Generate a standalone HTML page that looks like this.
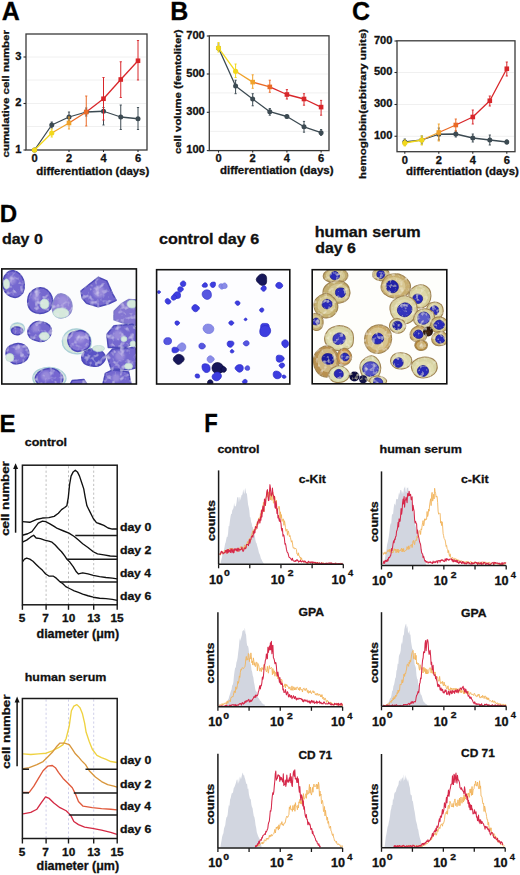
<!DOCTYPE html>
<html><head><meta charset="utf-8"><style>
html,body{margin:0;padding:0;background:#fff;width:520px;height:875px;overflow:hidden}
svg{display:block;font-family:"Liberation Sans",sans-serif}
text{stroke:#111;stroke-width:0.3px}
</style></head><body>
<svg width="520" height="875" viewBox="0 0 520 875">
<rect width="520" height="875" fill="#fff"/>
<line x1="27.00" y1="57.00" x2="146.00" y2="57.00" stroke="#ececec" stroke-width="0.8"/>
<line x1="27.00" y1="80.00" x2="146.00" y2="80.00" stroke="#ececec" stroke-width="0.8"/>
<line x1="27.00" y1="103.50" x2="146.00" y2="103.50" stroke="#ececec" stroke-width="0.8"/>
<line x1="27.00" y1="126.50" x2="146.00" y2="126.50" stroke="#ececec" stroke-width="0.8"/>
<rect x="26" y="34" width="121" height="116" fill="none" stroke="#3a3a3a" stroke-width="1.3"/>
<line x1="23.50" y1="150.00" x2="26.00" y2="150.00" stroke="#2b2b2b" stroke-width="1.1"/>
<text x="21.50" y="152.60" font-size="10.6" font-weight="bold" text-anchor="end" fill="#111" textLength="6.19" lengthAdjust="spacingAndGlyphs">1</text>
<line x1="23.50" y1="103.50" x2="26.00" y2="103.50" stroke="#2b2b2b" stroke-width="1.1"/>
<text x="21.50" y="106.10" font-size="10.6" font-weight="bold" text-anchor="end" fill="#111" textLength="6.19" lengthAdjust="spacingAndGlyphs">2</text>
<line x1="23.50" y1="57.00" x2="26.00" y2="57.00" stroke="#2b2b2b" stroke-width="1.1"/>
<text x="21.50" y="59.60" font-size="10.6" font-weight="bold" text-anchor="end" fill="#111" textLength="6.19" lengthAdjust="spacingAndGlyphs">3</text>
<line x1="34.50" y1="150.00" x2="34.50" y2="152.00" stroke="#2b2b2b" stroke-width="1.1"/>
<text x="34.50" y="161.80" font-size="10.6" font-weight="bold" text-anchor="middle" fill="#111" textLength="6.19" lengthAdjust="spacingAndGlyphs">0</text>
<line x1="69.00" y1="150.00" x2="69.00" y2="152.00" stroke="#2b2b2b" stroke-width="1.1"/>
<text x="69.00" y="161.80" font-size="10.6" font-weight="bold" text-anchor="middle" fill="#111" textLength="6.19" lengthAdjust="spacingAndGlyphs">2</text>
<line x1="103.50" y1="150.00" x2="103.50" y2="152.00" stroke="#2b2b2b" stroke-width="1.1"/>
<text x="103.50" y="161.80" font-size="10.6" font-weight="bold" text-anchor="middle" fill="#111" textLength="6.19" lengthAdjust="spacingAndGlyphs">4</text>
<line x1="138.00" y1="150.00" x2="138.00" y2="152.00" stroke="#2b2b2b" stroke-width="1.1"/>
<text x="138.00" y="161.80" font-size="10.6" font-weight="bold" text-anchor="middle" fill="#111" textLength="6.19" lengthAdjust="spacingAndGlyphs">6</text>
<text x="36.34" y="175.00" font-size="10.2" font-weight="bold" text-anchor="start" fill="#111" textLength="112.93" lengthAdjust="spacingAndGlyphs">differentiation (days)</text>
<text x="8.60" y="157.46" font-size="9.8" font-weight="bold" text-anchor="start" fill="#111" textLength="127.43" lengthAdjust="spacingAndGlyphs" transform="rotate(-90 8.60 157.46)">cumulative cell number</text>
<text x="1.67" y="20.20" font-size="25" font-weight="bold" text-anchor="start" fill="#000">A</text>
<line x1="34.50" y1="150.00" x2="34.50" y2="150.00" stroke="#3c4a52" stroke-width="1.0"/>
<line x1="33.40" y1="150.00" x2="35.60" y2="150.00" stroke="#3c4a52" stroke-width="0.9"/>
<line x1="33.40" y1="150.00" x2="35.60" y2="150.00" stroke="#3c4a52" stroke-width="0.9"/>
<line x1="51.75" y1="122.00" x2="51.75" y2="128.00" stroke="#3c4a52" stroke-width="1.0"/>
<line x1="50.65" y1="122.00" x2="52.85" y2="122.00" stroke="#3c4a52" stroke-width="0.9"/>
<line x1="50.65" y1="128.00" x2="52.85" y2="128.00" stroke="#3c4a52" stroke-width="0.9"/>
<line x1="69.00" y1="112.00" x2="69.00" y2="121.00" stroke="#3c4a52" stroke-width="1.0"/>
<line x1="67.90" y1="112.00" x2="70.10" y2="112.00" stroke="#3c4a52" stroke-width="0.9"/>
<line x1="67.90" y1="121.00" x2="70.10" y2="121.00" stroke="#3c4a52" stroke-width="0.9"/>
<line x1="86.25" y1="108.00" x2="86.25" y2="116.00" stroke="#3c4a52" stroke-width="1.0"/>
<line x1="85.15" y1="108.00" x2="87.35" y2="108.00" stroke="#3c4a52" stroke-width="0.9"/>
<line x1="85.15" y1="116.00" x2="87.35" y2="116.00" stroke="#3c4a52" stroke-width="0.9"/>
<line x1="103.50" y1="107.50" x2="103.50" y2="125.00" stroke="#3c4a52" stroke-width="1.0"/>
<line x1="102.40" y1="107.50" x2="104.60" y2="107.50" stroke="#3c4a52" stroke-width="0.9"/>
<line x1="102.40" y1="125.00" x2="104.60" y2="125.00" stroke="#3c4a52" stroke-width="0.9"/>
<line x1="120.75" y1="105.00" x2="120.75" y2="129.50" stroke="#3c4a52" stroke-width="1.0"/>
<line x1="119.65" y1="105.00" x2="121.85" y2="105.00" stroke="#3c4a52" stroke-width="0.9"/>
<line x1="119.65" y1="129.50" x2="121.85" y2="129.50" stroke="#3c4a52" stroke-width="0.9"/>
<line x1="138.00" y1="107.50" x2="138.00" y2="129.50" stroke="#3c4a52" stroke-width="1.0"/>
<line x1="136.90" y1="107.50" x2="139.10" y2="107.50" stroke="#3c4a52" stroke-width="0.9"/>
<line x1="136.90" y1="129.50" x2="139.10" y2="129.50" stroke="#3c4a52" stroke-width="0.9"/>
<polyline points="34.50,150.00 51.75,125.00 69.00,117.00 86.25,112.00 103.50,111.25 120.75,117.00 138.00,118.75" fill="none" stroke="#3c4a52" stroke-width="1.3" stroke-linejoin="round"/>
<circle cx="34.50" cy="150.00" r="2.5" fill="#3c4a52"/>
<circle cx="51.75" cy="125.00" r="2.5" fill="#3c4a52"/>
<circle cx="69.00" cy="117.00" r="2.5" fill="#3c4a52"/>
<circle cx="86.25" cy="112.00" r="2.5" fill="#3c4a52"/>
<circle cx="103.50" cy="111.25" r="2.5" fill="#3c4a52"/>
<circle cx="120.75" cy="117.00" r="2.5" fill="#3c4a52"/>
<circle cx="138.00" cy="118.75" r="2.5" fill="#3c4a52"/>
<line x1="34.50" y1="150.00" x2="34.50" y2="150.00" stroke="#f2d81c" stroke-width="1.0"/>
<line x1="33.40" y1="150.00" x2="35.60" y2="150.00" stroke="#f2d81c" stroke-width="0.9"/>
<line x1="33.40" y1="150.00" x2="35.60" y2="150.00" stroke="#f2d81c" stroke-width="0.9"/>
<line x1="51.75" y1="129.00" x2="51.75" y2="137.00" stroke="#f2d81c" stroke-width="1.0"/>
<line x1="50.65" y1="129.00" x2="52.85" y2="129.00" stroke="#f2d81c" stroke-width="0.9"/>
<line x1="50.65" y1="137.00" x2="52.85" y2="137.00" stroke="#f2d81c" stroke-width="0.9"/>
<line x1="69.00" y1="117.00" x2="69.00" y2="129.00" stroke="#f0a22a" stroke-width="1.0"/>
<line x1="67.90" y1="117.00" x2="70.10" y2="117.00" stroke="#f0a22a" stroke-width="0.9"/>
<line x1="67.90" y1="129.00" x2="70.10" y2="129.00" stroke="#f0a22a" stroke-width="0.9"/>
<line x1="86.25" y1="96.00" x2="86.25" y2="126.00" stroke="#ea6a26" stroke-width="1.0"/>
<line x1="85.15" y1="96.00" x2="87.35" y2="96.00" stroke="#ea6a26" stroke-width="0.9"/>
<line x1="85.15" y1="126.00" x2="87.35" y2="126.00" stroke="#ea6a26" stroke-width="0.9"/>
<line x1="103.50" y1="77.50" x2="103.50" y2="120.00" stroke="#d8262a" stroke-width="1.0"/>
<line x1="102.40" y1="77.50" x2="104.60" y2="77.50" stroke="#d8262a" stroke-width="0.9"/>
<line x1="102.40" y1="120.00" x2="104.60" y2="120.00" stroke="#d8262a" stroke-width="0.9"/>
<line x1="120.75" y1="61.75" x2="120.75" y2="97.50" stroke="#d8262a" stroke-width="1.0"/>
<line x1="119.65" y1="61.75" x2="121.85" y2="61.75" stroke="#d8262a" stroke-width="0.9"/>
<line x1="119.65" y1="97.50" x2="121.85" y2="97.50" stroke="#d8262a" stroke-width="0.9"/>
<line x1="138.00" y1="40.50" x2="138.00" y2="80.00" stroke="#d8262a" stroke-width="1.0"/>
<line x1="136.90" y1="40.50" x2="139.10" y2="40.50" stroke="#d8262a" stroke-width="0.9"/>
<line x1="136.90" y1="80.00" x2="139.10" y2="80.00" stroke="#d8262a" stroke-width="0.9"/>
<line x1="34.50" y1="150.00" x2="51.75" y2="133.00" stroke="#f2d81c" stroke-width="1.3"/>
<line x1="51.75" y1="133.00" x2="69.00" y2="123.00" stroke="#f0a22a" stroke-width="1.3"/>
<line x1="69.00" y1="123.00" x2="86.25" y2="112.00" stroke="#ea6a26" stroke-width="1.3"/>
<line x1="86.25" y1="112.00" x2="103.50" y2="98.75" stroke="#d8262a" stroke-width="1.3"/>
<line x1="103.50" y1="98.75" x2="120.75" y2="79.50" stroke="#d8262a" stroke-width="1.3"/>
<line x1="120.75" y1="79.50" x2="138.00" y2="60.75" stroke="#d8262a" stroke-width="1.3"/>
<circle cx="34.50" cy="150.00" r="2.6" fill="#f2d81c"/>
<circle cx="51.75" cy="133.00" r="2.6" fill="#f2d81c"/>
<rect x="66.70" y="120.70" width="4.6" height="4.6" fill="#f0a22a"/>
<rect x="83.95" y="109.70" width="4.6" height="4.6" fill="#ea6a26"/>
<rect x="101.20" y="96.45" width="4.6" height="4.6" fill="#d8262a"/>
<rect x="118.45" y="77.20" width="4.6" height="4.6" fill="#d8262a"/>
<rect x="135.70" y="58.45" width="4.6" height="4.6" fill="#d8262a"/>
<line x1="210.30" y1="54.60" x2="328.00" y2="54.60" stroke="#ececec" stroke-width="0.8"/>
<line x1="210.30" y1="74.00" x2="328.00" y2="74.00" stroke="#ececec" stroke-width="0.8"/>
<line x1="210.30" y1="92.90" x2="328.00" y2="92.90" stroke="#ececec" stroke-width="0.8"/>
<line x1="210.30" y1="111.70" x2="328.00" y2="111.70" stroke="#ececec" stroke-width="0.8"/>
<line x1="210.30" y1="131.40" x2="328.00" y2="131.40" stroke="#ececec" stroke-width="0.8"/>
<rect x="209.3" y="35.8" width="119.69999999999999" height="114.8" fill="none" stroke="#3a3a3a" stroke-width="1.3"/>
<line x1="206.80" y1="36.00" x2="209.30" y2="36.00" stroke="#2b2b2b" stroke-width="1.1"/>
<text x="204.80" y="38.60" font-size="10.6" font-weight="bold" text-anchor="end" fill="#111" textLength="18.57" lengthAdjust="spacingAndGlyphs">700</text>
<line x1="206.80" y1="74.00" x2="209.30" y2="74.00" stroke="#2b2b2b" stroke-width="1.1"/>
<text x="204.80" y="76.60" font-size="10.6" font-weight="bold" text-anchor="end" fill="#111" textLength="18.57" lengthAdjust="spacingAndGlyphs">500</text>
<line x1="206.80" y1="112.30" x2="209.30" y2="112.30" stroke="#2b2b2b" stroke-width="1.1"/>
<text x="204.80" y="114.90" font-size="10.6" font-weight="bold" text-anchor="end" fill="#111" textLength="18.57" lengthAdjust="spacingAndGlyphs">300</text>
<line x1="206.80" y1="150.60" x2="209.30" y2="150.60" stroke="#2b2b2b" stroke-width="1.1"/>
<text x="204.80" y="153.20" font-size="10.6" font-weight="bold" text-anchor="end" fill="#111" textLength="18.57" lengthAdjust="spacingAndGlyphs">100</text>
<line x1="218.50" y1="150.60" x2="218.50" y2="152.60" stroke="#2b2b2b" stroke-width="1.1"/>
<text x="218.50" y="162.40" font-size="10.6" font-weight="bold" text-anchor="middle" fill="#111" textLength="6.19" lengthAdjust="spacingAndGlyphs">0</text>
<line x1="252.70" y1="150.60" x2="252.70" y2="152.60" stroke="#2b2b2b" stroke-width="1.1"/>
<text x="252.70" y="162.40" font-size="10.6" font-weight="bold" text-anchor="middle" fill="#111" textLength="6.19" lengthAdjust="spacingAndGlyphs">2</text>
<line x1="286.90" y1="150.60" x2="286.90" y2="152.60" stroke="#2b2b2b" stroke-width="1.1"/>
<text x="286.90" y="162.40" font-size="10.6" font-weight="bold" text-anchor="middle" fill="#111" textLength="6.19" lengthAdjust="spacingAndGlyphs">4</text>
<line x1="321.10" y1="150.60" x2="321.10" y2="152.60" stroke="#2b2b2b" stroke-width="1.1"/>
<text x="321.10" y="162.40" font-size="10.6" font-weight="bold" text-anchor="middle" fill="#111" textLength="6.19" lengthAdjust="spacingAndGlyphs">6</text>
<text x="220.04" y="174.10" font-size="10.2" font-weight="bold" text-anchor="start" fill="#111" textLength="113.53" lengthAdjust="spacingAndGlyphs">differentiation (days)</text>
<text x="180.90" y="154.05" font-size="9.8" font-weight="bold" text-anchor="start" fill="#111" textLength="124.49" lengthAdjust="spacingAndGlyphs" transform="rotate(-90 180.90 154.05)">cell volume (femtoliter)</text>
<text x="170.18" y="20.20" font-size="25" font-weight="bold" text-anchor="start" fill="#000">B</text>
<line x1="218.50" y1="44.00" x2="218.50" y2="50.00" stroke="#3c4a52" stroke-width="1.0"/>
<line x1="217.40" y1="44.00" x2="219.60" y2="44.00" stroke="#3c4a52" stroke-width="0.9"/>
<line x1="217.40" y1="50.00" x2="219.60" y2="50.00" stroke="#3c4a52" stroke-width="0.9"/>
<line x1="235.60" y1="80.20" x2="235.60" y2="93.70" stroke="#3c4a52" stroke-width="1.0"/>
<line x1="234.50" y1="80.20" x2="236.70" y2="80.20" stroke="#3c4a52" stroke-width="0.9"/>
<line x1="234.50" y1="93.70" x2="236.70" y2="93.70" stroke="#3c4a52" stroke-width="0.9"/>
<line x1="252.70" y1="93.70" x2="252.70" y2="105.80" stroke="#3c4a52" stroke-width="1.0"/>
<line x1="251.60" y1="93.70" x2="253.80" y2="93.70" stroke="#3c4a52" stroke-width="0.9"/>
<line x1="251.60" y1="105.80" x2="253.80" y2="105.80" stroke="#3c4a52" stroke-width="0.9"/>
<line x1="269.80" y1="108.50" x2="269.80" y2="115.20" stroke="#3c4a52" stroke-width="1.0"/>
<line x1="268.70" y1="108.50" x2="270.90" y2="108.50" stroke="#3c4a52" stroke-width="0.9"/>
<line x1="268.70" y1="115.20" x2="270.90" y2="115.20" stroke="#3c4a52" stroke-width="0.9"/>
<line x1="286.90" y1="115.00" x2="286.90" y2="118.00" stroke="#3c4a52" stroke-width="1.0"/>
<line x1="285.80" y1="115.00" x2="288.00" y2="115.00" stroke="#3c4a52" stroke-width="0.9"/>
<line x1="285.80" y1="118.00" x2="288.00" y2="118.00" stroke="#3c4a52" stroke-width="0.9"/>
<line x1="304.00" y1="121.40" x2="304.00" y2="132.20" stroke="#3c4a52" stroke-width="1.0"/>
<line x1="302.90" y1="121.40" x2="305.10" y2="121.40" stroke="#3c4a52" stroke-width="0.9"/>
<line x1="302.90" y1="132.20" x2="305.10" y2="132.20" stroke="#3c4a52" stroke-width="0.9"/>
<line x1="321.10" y1="129.50" x2="321.10" y2="135.40" stroke="#3c4a52" stroke-width="1.0"/>
<line x1="320.00" y1="129.50" x2="322.20" y2="129.50" stroke="#3c4a52" stroke-width="0.9"/>
<line x1="320.00" y1="135.40" x2="322.20" y2="135.40" stroke="#3c4a52" stroke-width="0.9"/>
<polyline points="218.50,47.90 235.60,86.10 252.70,99.00 269.80,111.70 286.90,116.50 304.00,126.80 321.10,132.70" fill="none" stroke="#3c4a52" stroke-width="1.3" stroke-linejoin="round"/>
<circle cx="218.50" cy="47.90" r="2.5" fill="#3c4a52"/>
<circle cx="235.60" cy="86.10" r="2.5" fill="#3c4a52"/>
<circle cx="252.70" cy="99.00" r="2.5" fill="#3c4a52"/>
<circle cx="269.80" cy="111.70" r="2.5" fill="#3c4a52"/>
<circle cx="286.90" cy="116.50" r="2.5" fill="#3c4a52"/>
<circle cx="304.00" cy="126.80" r="2.5" fill="#3c4a52"/>
<circle cx="321.10" cy="132.70" r="2.5" fill="#3c4a52"/>
<line x1="218.50" y1="42.50" x2="218.50" y2="52.00" stroke="#f2d81c" stroke-width="1.0"/>
<line x1="217.40" y1="42.50" x2="219.60" y2="42.50" stroke="#f2d81c" stroke-width="0.9"/>
<line x1="217.40" y1="52.00" x2="219.60" y2="52.00" stroke="#f2d81c" stroke-width="0.9"/>
<line x1="235.60" y1="64.00" x2="235.60" y2="77.50" stroke="#f2d81c" stroke-width="1.0"/>
<line x1="234.50" y1="64.00" x2="236.70" y2="64.00" stroke="#f2d81c" stroke-width="0.9"/>
<line x1="234.50" y1="77.50" x2="236.70" y2="77.50" stroke="#f2d81c" stroke-width="0.9"/>
<line x1="252.70" y1="74.80" x2="252.70" y2="88.30" stroke="#f0a22a" stroke-width="1.0"/>
<line x1="251.60" y1="74.80" x2="253.80" y2="74.80" stroke="#f0a22a" stroke-width="0.9"/>
<line x1="251.60" y1="88.30" x2="253.80" y2="88.30" stroke="#f0a22a" stroke-width="0.9"/>
<line x1="269.80" y1="80.20" x2="269.80" y2="92.30" stroke="#ea6a26" stroke-width="1.0"/>
<line x1="268.70" y1="80.20" x2="270.90" y2="80.20" stroke="#ea6a26" stroke-width="0.9"/>
<line x1="268.70" y1="92.30" x2="270.90" y2="92.30" stroke="#ea6a26" stroke-width="0.9"/>
<line x1="286.90" y1="89.60" x2="286.90" y2="99.00" stroke="#d8262a" stroke-width="1.0"/>
<line x1="285.80" y1="89.60" x2="288.00" y2="89.60" stroke="#d8262a" stroke-width="0.9"/>
<line x1="285.80" y1="99.00" x2="288.00" y2="99.00" stroke="#d8262a" stroke-width="0.9"/>
<line x1="304.00" y1="93.70" x2="304.00" y2="105.20" stroke="#d8262a" stroke-width="1.0"/>
<line x1="302.90" y1="93.70" x2="305.10" y2="93.70" stroke="#d8262a" stroke-width="0.9"/>
<line x1="302.90" y1="105.20" x2="305.10" y2="105.20" stroke="#d8262a" stroke-width="0.9"/>
<line x1="321.10" y1="100.40" x2="321.10" y2="115.20" stroke="#d8262a" stroke-width="1.0"/>
<line x1="320.00" y1="100.40" x2="322.20" y2="100.40" stroke="#d8262a" stroke-width="0.9"/>
<line x1="320.00" y1="115.20" x2="322.20" y2="115.20" stroke="#d8262a" stroke-width="0.9"/>
<line x1="218.50" y1="47.90" x2="235.60" y2="71.30" stroke="#f2d81c" stroke-width="1.3"/>
<line x1="235.60" y1="71.30" x2="252.70" y2="82.10" stroke="#f0a22a" stroke-width="1.3"/>
<line x1="252.70" y1="82.10" x2="269.80" y2="86.90" stroke="#ea6a26" stroke-width="1.3"/>
<line x1="269.80" y1="86.90" x2="286.90" y2="94.50" stroke="#d8262a" stroke-width="1.3"/>
<line x1="286.90" y1="94.50" x2="304.00" y2="99.00" stroke="#d8262a" stroke-width="1.3"/>
<line x1="304.00" y1="99.00" x2="321.10" y2="107.10" stroke="#d8262a" stroke-width="1.3"/>
<circle cx="218.50" cy="47.90" r="2.6" fill="#f2d81c"/>
<circle cx="235.60" cy="71.30" r="2.6" fill="#f2d81c"/>
<rect x="250.40" y="79.80" width="4.6" height="4.6" fill="#f0a22a"/>
<rect x="267.50" y="84.60" width="4.6" height="4.6" fill="#ea6a26"/>
<rect x="284.60" y="92.20" width="4.6" height="4.6" fill="#d8262a"/>
<rect x="301.70" y="96.70" width="4.6" height="4.6" fill="#d8262a"/>
<rect x="318.80" y="104.80" width="4.6" height="4.6" fill="#d8262a"/>
<line x1="398.00" y1="72.50" x2="514.00" y2="72.50" stroke="#ececec" stroke-width="0.8"/>
<line x1="398.00" y1="104.50" x2="514.00" y2="104.50" stroke="#ececec" stroke-width="0.8"/>
<line x1="398.00" y1="136.25" x2="514.00" y2="136.25" stroke="#ececec" stroke-width="0.8"/>
<rect x="397" y="40.8" width="118" height="110.89999999999999" fill="none" stroke="#3a3a3a" stroke-width="1.3"/>
<line x1="394.50" y1="41.00" x2="397.00" y2="41.00" stroke="#2b2b2b" stroke-width="1.1"/>
<text x="392.50" y="43.60" font-size="10.6" font-weight="bold" text-anchor="end" fill="#111" textLength="18.57" lengthAdjust="spacingAndGlyphs">700</text>
<line x1="394.50" y1="72.50" x2="397.00" y2="72.50" stroke="#2b2b2b" stroke-width="1.1"/>
<text x="392.50" y="75.10" font-size="10.6" font-weight="bold" text-anchor="end" fill="#111" textLength="18.57" lengthAdjust="spacingAndGlyphs">500</text>
<line x1="394.50" y1="104.50" x2="397.00" y2="104.50" stroke="#2b2b2b" stroke-width="1.1"/>
<text x="392.50" y="107.10" font-size="10.6" font-weight="bold" text-anchor="end" fill="#111" textLength="18.57" lengthAdjust="spacingAndGlyphs">300</text>
<line x1="394.50" y1="136.25" x2="397.00" y2="136.25" stroke="#2b2b2b" stroke-width="1.1"/>
<text x="392.50" y="138.85" font-size="10.6" font-weight="bold" text-anchor="end" fill="#111" textLength="18.57" lengthAdjust="spacingAndGlyphs">100</text>
<line x1="404.80" y1="151.70" x2="404.80" y2="153.70" stroke="#2b2b2b" stroke-width="1.1"/>
<text x="404.80" y="163.50" font-size="10.6" font-weight="bold" text-anchor="middle" fill="#111" textLength="6.19" lengthAdjust="spacingAndGlyphs">0</text>
<line x1="438.80" y1="151.70" x2="438.80" y2="153.70" stroke="#2b2b2b" stroke-width="1.1"/>
<text x="438.80" y="163.50" font-size="10.6" font-weight="bold" text-anchor="middle" fill="#111" textLength="6.19" lengthAdjust="spacingAndGlyphs">2</text>
<line x1="472.80" y1="151.70" x2="472.80" y2="153.70" stroke="#2b2b2b" stroke-width="1.1"/>
<text x="472.80" y="163.50" font-size="10.6" font-weight="bold" text-anchor="middle" fill="#111" textLength="6.19" lengthAdjust="spacingAndGlyphs">4</text>
<line x1="506.80" y1="151.70" x2="506.80" y2="153.70" stroke="#2b2b2b" stroke-width="1.1"/>
<text x="506.80" y="163.50" font-size="10.6" font-weight="bold" text-anchor="middle" fill="#111" textLength="6.19" lengthAdjust="spacingAndGlyphs">6</text>
<text x="406.04" y="175.20" font-size="10.2" font-weight="bold" text-anchor="start" fill="#111" textLength="112.83" lengthAdjust="spacingAndGlyphs">differentiation (days)</text>
<text x="366.30" y="179.00" font-size="9.8" font-weight="bold" text-anchor="start" fill="#111" textLength="150.14" lengthAdjust="spacingAndGlyphs" transform="rotate(-90 366.30 179.00)">hemoglobin(arbitrary units)</text>
<text x="352.00" y="20.20" font-size="25" font-weight="bold" text-anchor="start" fill="#000">C</text>
<line x1="404.80" y1="139.00" x2="404.80" y2="145.00" stroke="#3c4a52" stroke-width="1.0"/>
<line x1="403.70" y1="139.00" x2="405.90" y2="139.00" stroke="#3c4a52" stroke-width="0.9"/>
<line x1="403.70" y1="145.00" x2="405.90" y2="145.00" stroke="#3c4a52" stroke-width="0.9"/>
<line x1="421.80" y1="136.00" x2="421.80" y2="144.00" stroke="#3c4a52" stroke-width="1.0"/>
<line x1="420.70" y1="136.00" x2="422.90" y2="136.00" stroke="#3c4a52" stroke-width="0.9"/>
<line x1="420.70" y1="144.00" x2="422.90" y2="144.00" stroke="#3c4a52" stroke-width="0.9"/>
<line x1="438.80" y1="128.00" x2="438.80" y2="140.00" stroke="#3c4a52" stroke-width="1.0"/>
<line x1="437.70" y1="128.00" x2="439.90" y2="128.00" stroke="#3c4a52" stroke-width="0.9"/>
<line x1="437.70" y1="140.00" x2="439.90" y2="140.00" stroke="#3c4a52" stroke-width="0.9"/>
<line x1="455.80" y1="131.00" x2="455.80" y2="137.00" stroke="#3c4a52" stroke-width="1.0"/>
<line x1="454.70" y1="131.00" x2="456.90" y2="131.00" stroke="#3c4a52" stroke-width="0.9"/>
<line x1="454.70" y1="137.00" x2="456.90" y2="137.00" stroke="#3c4a52" stroke-width="0.9"/>
<line x1="472.80" y1="134.00" x2="472.80" y2="142.00" stroke="#3c4a52" stroke-width="1.0"/>
<line x1="471.70" y1="134.00" x2="473.90" y2="134.00" stroke="#3c4a52" stroke-width="0.9"/>
<line x1="471.70" y1="142.00" x2="473.90" y2="142.00" stroke="#3c4a52" stroke-width="0.9"/>
<line x1="489.80" y1="135.00" x2="489.80" y2="145.00" stroke="#3c4a52" stroke-width="1.0"/>
<line x1="488.70" y1="135.00" x2="490.90" y2="135.00" stroke="#3c4a52" stroke-width="0.9"/>
<line x1="488.70" y1="145.00" x2="490.90" y2="145.00" stroke="#3c4a52" stroke-width="0.9"/>
<line x1="506.80" y1="140.00" x2="506.80" y2="144.00" stroke="#3c4a52" stroke-width="1.0"/>
<line x1="505.70" y1="140.00" x2="507.90" y2="140.00" stroke="#3c4a52" stroke-width="0.9"/>
<line x1="505.70" y1="144.00" x2="507.90" y2="144.00" stroke="#3c4a52" stroke-width="0.9"/>
<polyline points="404.80,142.00 421.80,140.00 438.80,134.25 455.80,134.00 472.80,138.00 489.80,140.00 506.80,142.00" fill="none" stroke="#3c4a52" stroke-width="1.3" stroke-linejoin="round"/>
<circle cx="404.80" cy="142.00" r="2.5" fill="#3c4a52"/>
<circle cx="421.80" cy="140.00" r="2.5" fill="#3c4a52"/>
<circle cx="438.80" cy="134.25" r="2.5" fill="#3c4a52"/>
<circle cx="455.80" cy="134.00" r="2.5" fill="#3c4a52"/>
<circle cx="472.80" cy="138.00" r="2.5" fill="#3c4a52"/>
<circle cx="489.80" cy="140.00" r="2.5" fill="#3c4a52"/>
<circle cx="506.80" cy="142.00" r="2.5" fill="#3c4a52"/>
<line x1="404.80" y1="140.00" x2="404.80" y2="146.00" stroke="#f2d81c" stroke-width="1.0"/>
<line x1="403.70" y1="140.00" x2="405.90" y2="140.00" stroke="#f2d81c" stroke-width="0.9"/>
<line x1="403.70" y1="146.00" x2="405.90" y2="146.00" stroke="#f2d81c" stroke-width="0.9"/>
<line x1="421.80" y1="136.00" x2="421.80" y2="145.00" stroke="#f2d81c" stroke-width="1.0"/>
<line x1="420.70" y1="136.00" x2="422.90" y2="136.00" stroke="#f2d81c" stroke-width="0.9"/>
<line x1="420.70" y1="145.00" x2="422.90" y2="145.00" stroke="#f2d81c" stroke-width="0.9"/>
<line x1="438.80" y1="124.00" x2="438.80" y2="141.00" stroke="#f0a22a" stroke-width="1.0"/>
<line x1="437.70" y1="124.00" x2="439.90" y2="124.00" stroke="#f0a22a" stroke-width="0.9"/>
<line x1="437.70" y1="141.00" x2="439.90" y2="141.00" stroke="#f0a22a" stroke-width="0.9"/>
<line x1="455.80" y1="119.00" x2="455.80" y2="131.00" stroke="#ea6a26" stroke-width="1.0"/>
<line x1="454.70" y1="119.00" x2="456.90" y2="119.00" stroke="#ea6a26" stroke-width="0.9"/>
<line x1="454.70" y1="131.00" x2="456.90" y2="131.00" stroke="#ea6a26" stroke-width="0.9"/>
<line x1="472.80" y1="110.00" x2="472.80" y2="124.00" stroke="#d8262a" stroke-width="1.0"/>
<line x1="471.70" y1="110.00" x2="473.90" y2="110.00" stroke="#d8262a" stroke-width="0.9"/>
<line x1="471.70" y1="124.00" x2="473.90" y2="124.00" stroke="#d8262a" stroke-width="0.9"/>
<line x1="489.80" y1="96.00" x2="489.80" y2="106.00" stroke="#d8262a" stroke-width="1.0"/>
<line x1="488.70" y1="96.00" x2="490.90" y2="96.00" stroke="#d8262a" stroke-width="0.9"/>
<line x1="488.70" y1="106.00" x2="490.90" y2="106.00" stroke="#d8262a" stroke-width="0.9"/>
<line x1="506.80" y1="62.00" x2="506.80" y2="76.00" stroke="#d8262a" stroke-width="1.0"/>
<line x1="505.70" y1="62.00" x2="507.90" y2="62.00" stroke="#d8262a" stroke-width="0.9"/>
<line x1="505.70" y1="76.00" x2="507.90" y2="76.00" stroke="#d8262a" stroke-width="0.9"/>
<line x1="404.80" y1="143.00" x2="421.80" y2="140.00" stroke="#f2d81c" stroke-width="1.3"/>
<line x1="421.80" y1="140.00" x2="438.80" y2="132.50" stroke="#f0a22a" stroke-width="1.3"/>
<line x1="438.80" y1="132.50" x2="455.80" y2="125.00" stroke="#ea6a26" stroke-width="1.3"/>
<line x1="455.80" y1="125.00" x2="472.80" y2="117.00" stroke="#d8262a" stroke-width="1.3"/>
<line x1="472.80" y1="117.00" x2="489.80" y2="100.75" stroke="#d8262a" stroke-width="1.3"/>
<line x1="489.80" y1="100.75" x2="506.80" y2="68.75" stroke="#d8262a" stroke-width="1.3"/>
<circle cx="404.80" cy="143.00" r="2.6" fill="#f2d81c"/>
<circle cx="421.80" cy="140.00" r="2.6" fill="#f2d81c"/>
<rect x="436.50" y="130.20" width="4.6" height="4.6" fill="#f0a22a"/>
<rect x="453.50" y="122.70" width="4.6" height="4.6" fill="#ea6a26"/>
<rect x="470.50" y="114.70" width="4.6" height="4.6" fill="#d8262a"/>
<rect x="487.50" y="98.45" width="4.6" height="4.6" fill="#d8262a"/>
<rect x="504.50" y="66.45" width="4.6" height="4.6" fill="#d8262a"/>
<text x="-0.17" y="222.10" font-size="24.6" font-weight="bold" text-anchor="start" fill="#000" textLength="17.41" lengthAdjust="spacingAndGlyphs">D</text>
<text x="1.96" y="243.60" font-size="14.6" font-weight="bold" text-anchor="start" fill="#111" textLength="40.81" lengthAdjust="spacingAndGlyphs">day 0</text>
<text x="158.96" y="244.20" font-size="14.6" font-weight="bold" text-anchor="start" fill="#111" textLength="100.19" lengthAdjust="spacingAndGlyphs">control day 6</text>
<text x="314.67" y="237.20" font-size="14.6" font-weight="bold" text-anchor="start" fill="#111" textLength="106.06" lengthAdjust="spacingAndGlyphs">human serum</text>
<text x="315.16" y="252.60" font-size="14.6" font-weight="bold" text-anchor="start" fill="#111" textLength="40.73" lengthAdjust="spacingAndGlyphs">day 6</text>
<defs>
<clipPath id="cp0"><rect x="1.8" y="268.9" width="134.6" height="115.10000000000002"/></clipPath>
<clipPath id="cp1"><rect x="156.6" y="269.7" width="133.20000000000002" height="114.30000000000001"/></clipPath>
<clipPath id="cp2"><rect x="312.2" y="269.7" width="134.60000000000002" height="114.10000000000002"/></clipPath>
<filter id="bl1" x="-30%" y="-30%" width="160%" height="160%"><feGaussianBlur stdDeviation="0.6"/></filter>
<filter id="bl2" x="-30%" y="-30%" width="160%" height="160%"><feGaussianBlur stdDeviation="1.2"/></filter>
<filter id="tex" x="0" y="0" width="100%" height="100%"><feTurbulence type="fractalNoise" baseFrequency="0.2" numOctaves="2" seed="4" result="n"/><feColorMatrix in="n" type="matrix" values="0 0 0 0 0.84  0 0 0 0 0.8  0 0 0 0 0.96  -1.5 0 0 0 0.75" result="w"/><feComposite in="w" in2="SourceAlpha" operator="in" result="wm"/><feMerge><feMergeNode in="SourceGraphic"/><feMergeNode in="wm"/></feMerge></filter>
<filter id="tex2" x="0" y="0" width="100%" height="100%"><feTurbulence type="fractalNoise" baseFrequency="0.25" numOctaves="2" seed="9" result="n"/><feColorMatrix in="n" type="matrix" values="0 0 0 0 0.96  0 0 0 0 0.94  0 0 0 0 0.8  -1.5 0 0 0 0.72" result="w"/><feComposite in="w" in2="SourceAlpha" operator="in" result="wm"/><feMerge><feMergeNode in="SourceGraphic"/><feMergeNode in="wm"/></feMerge></filter>
</defs>
<g clip-path="url(#cp0)">
<rect x="1.8" y="268.9" width="134.6" height="115.10000000000002" fill="#fbfcfd"/>
<g filter="url(#tex)">
<g filter="url(#bl1)"><path d="M23.51,280.20 Q24.63,284.00 24.12,288.34 Q23.62,292.69 20.56,295.28 Q17.50,297.88 13.94,297.33 Q10.39,296.79 7.44,294.51 Q4.50,292.22 3.45,288.11 Q2.39,284.00 3.33,279.79 Q4.27,275.57 7.18,272.82 Q10.08,270.07 13.60,270.81 Q17.12,271.55 19.76,273.97 Q22.40,276.39 23.51,280.20 Z" fill="#7468cf" stroke="#4d48b8" stroke-width="1.5" stroke-linejoin="round"/><circle cx="12.00" cy="280.00" r="4.00" fill="#a496de" opacity="0.75" filter="url(#bl2)"/><ellipse cx="6.50" cy="284.00" rx="3.00" ry="5.00" fill="#d6e9dc" stroke="#b8d8d4" stroke-width="0.8"/></g>
<g filter="url(#bl1)"><path d="M51.85,296.82 Q53.41,301.00 52.12,305.41 Q50.84,309.82 47.21,311.59 Q43.59,313.37 39.99,313.40 Q36.39,313.43 32.87,311.55 Q29.34,309.67 28.19,305.34 Q27.03,301.00 28.32,296.77 Q29.61,292.55 32.93,290.32 Q36.26,288.09 40.09,287.78 Q43.93,287.46 47.11,290.04 Q50.29,292.63 51.85,296.82 Z" fill="#7468cf" stroke="#4d48b8" stroke-width="1.5" stroke-linejoin="round"/><circle cx="36.00" cy="297.00" r="4.00" fill="#a496de" opacity="0.75" filter="url(#bl2)"/><ellipse cx="44.50" cy="304.00" rx="4.50" ry="5.00" fill="#d6e9dc" stroke="#b8d8d4" stroke-width="0.8"/></g>
<g filter="url(#bl1)"><path d="M71.42,302.52 Q72.42,306.00 71.70,309.71 Q70.98,313.41 68.14,315.50 Q65.31,317.58 61.92,317.86 Q58.53,318.14 55.70,315.83 Q52.88,313.53 52.42,309.77 Q51.96,306.00 52.96,302.68 Q53.97,299.37 56.17,296.34 Q58.37,293.31 61.80,294.00 Q65.24,294.68 67.83,296.86 Q70.43,299.04 71.42,302.52 Z" fill="#8e7ed6" stroke="#8a88cc" stroke-width="1.5" stroke-linejoin="round"/><circle cx="63.00" cy="301.00" r="5.00" fill="#a496de" opacity="0.75" filter="url(#bl2)"/><ellipse cx="61.00" cy="313.00" rx="8.00" ry="5.00" fill="#d6e9dc" stroke="#b8d8d4" stroke-width="0.8"/></g>
<g filter="url(#bl1)"><path d="M80.90,291.00 L98.20,277.30 L106.80,280.90 L112.60,293.90 L116.20,300.40 L108.30,304.00 L98.20,306.80 L86.60,303.20 L82.30,298.20 Z" fill="#7468cf" stroke="#4d48b8" stroke-width="1.5" stroke-linejoin="round"/><circle cx="99.00" cy="292.00" r="6.00" fill="#a496de" opacity="0.75" filter="url(#bl2)"/></g>
<g filter="url(#bl1)"><path d="M114.00,311.20 L121.30,304.00 L128.50,299.60 L137.00,300.00 L137.00,325.60 L122.70,322.70 L114.00,319.80 Z" fill="#8476d2" stroke="#7a74c8" stroke-width="1.5" stroke-linejoin="round"/><ellipse cx="132.00" cy="304.00" rx="5.00" ry="4.00" fill="#d6e9dc" stroke="#b8d8d4" stroke-width="0.8"/></g>
<g filter="url(#bl1)"><path d="M23.97,326.47 Q24.97,328.70 23.92,330.89 Q22.86,333.07 20.18,333.96 Q17.50,334.84 14.83,333.95 Q12.16,333.06 11.07,330.88 Q9.98,328.70 11.00,326.47 Q12.02,324.23 14.76,323.46 Q17.50,322.68 20.23,323.46 Q22.96,324.24 23.97,326.47 Z" fill="#d6e9dc" stroke="#a9cfd6" stroke-width="1.4"/><path d="M22.15,329.25 Q23.08,330.80 22.17,332.36 Q21.26,333.92 19.03,334.46 Q16.80,334.99 14.76,334.32 Q12.72,333.66 12.00,332.23 Q11.28,330.80 11.86,329.28 Q12.45,327.75 14.62,327.19 Q16.80,326.62 19.01,327.16 Q21.22,327.71 22.15,329.25 Z" fill="#7468cf" stroke="#4d48b8" stroke-width="1.5" stroke-linejoin="round"/></g>
<g filter="url(#bl1)"><path d="M51.04,328.26 Q52.14,331.40 50.81,334.40 Q49.48,337.39 46.61,339.66 Q43.75,341.92 39.88,341.44 Q36.02,340.97 32.65,339.38 Q29.29,337.78 28.23,334.59 Q27.18,331.40 28.63,328.45 Q30.08,325.50 32.91,323.31 Q35.74,321.12 39.55,321.50 Q43.36,321.89 46.65,323.50 Q49.95,325.12 51.04,328.26 Z" fill="#7468cf" stroke="#4d48b8" stroke-width="1.5" stroke-linejoin="round"/><circle cx="36.00" cy="328.00" r="4.00" fill="#a496de" opacity="0.75" filter="url(#bl2)"/><ellipse cx="44.40" cy="336.20" rx="5.00" ry="4.00" fill="#d6e9dc" stroke="#b8d8d4" stroke-width="0.8"/></g>
<g filter="url(#bl1)"><path d="M90.38,337.69 Q91.71,341.50 90.79,345.57 Q89.86,349.64 85.76,351.82 Q81.66,354.00 77.05,353.86 Q72.44,353.72 68.46,351.57 Q64.48,349.42 63.00,345.46 Q61.51,341.50 63.01,337.55 Q64.50,333.59 68.37,331.17 Q72.24,328.75 76.93,328.95 Q81.61,329.14 85.33,331.51 Q89.05,333.88 90.38,337.69 Z" fill="#d6e9dc" stroke="#a9cfd6" stroke-width="1.4"/><path d="M89.63,337.78 Q90.61,341.00 89.93,344.41 Q89.25,347.82 85.89,349.41 Q82.54,350.99 78.87,351.36 Q75.20,351.72 72.49,349.43 Q69.78,347.14 68.57,344.07 Q67.36,341.00 68.04,337.57 Q68.71,334.15 72.07,332.53 Q75.42,330.90 79.10,330.63 Q82.77,330.36 85.72,332.46 Q88.66,334.57 89.63,337.78 Z" fill="#8272d4" stroke="#4d48b8" stroke-width="1.5" stroke-linejoin="round"/><circle cx="80.00" cy="338.00" r="5.00" fill="#a496de" opacity="0.75" filter="url(#bl2)"/></g>
<g filter="url(#bl1)"><path d="M28.40,350.38 Q29.45,353.60 28.25,356.73 Q27.06,359.85 24.05,361.64 Q21.05,363.43 17.34,363.87 Q13.63,364.32 11.00,361.95 Q8.37,359.57 6.93,356.59 Q5.50,353.60 6.41,350.27 Q7.33,346.95 10.65,345.40 Q13.98,343.85 17.61,343.55 Q21.23,343.26 24.29,345.21 Q27.34,347.16 28.40,350.38 Z" fill="#7468cf" stroke="#4d48b8" stroke-width="1.5" stroke-linejoin="round"/><circle cx="19.00" cy="350.00" r="4.00" fill="#a496de" opacity="0.75" filter="url(#bl2)"/><ellipse cx="9.80" cy="357.50" rx="4.00" ry="4.00" fill="#d6e9dc" stroke="#b8d8d4" stroke-width="0.8"/></g>
<g filter="url(#bl1)"><path d="M104.66,354.82 Q106.11,357.50 104.77,360.24 Q103.44,362.99 100.56,364.85 Q97.68,366.70 94.07,366.30 Q90.45,365.90 86.96,364.70 Q83.46,363.50 82.21,360.50 Q80.97,357.50 82.40,354.61 Q83.83,351.71 87.16,350.46 Q90.49,349.20 94.06,348.81 Q97.63,348.42 100.42,350.28 Q103.21,352.15 104.66,354.82 Z" fill="#5a52c6" stroke="#4d48b8" stroke-width="1.5" stroke-linejoin="round"/><ellipse cx="98.50" cy="348.50" rx="6.00" ry="3.00" fill="#d6e9dc" stroke="#b8d8d4" stroke-width="0.8"/></g>
<g filter="url(#bl1)"><path d="M106.80,334.40 L114.00,325.80 L132.80,324.30 L137.00,330.00 L137.00,341.60 L125.60,347.40 L108.30,347.40 Z" fill="#7468cf" stroke="#4d48b8" stroke-width="1.5" stroke-linejoin="round"/><circle cx="118.00" cy="335.00" r="5.00" fill="#a496de" opacity="0.75" filter="url(#bl2)"/><ellipse cx="124.00" cy="339.00" rx="3.00" ry="2.50" fill="#d6e9dc" stroke="#b8d8d4" stroke-width="0.8"/><ellipse cx="133.00" cy="344.00" rx="3.00" ry="3.00" fill="#d6e9dc" stroke="#b8d8d4" stroke-width="0.8"/></g>
<g filter="url(#bl1)"><path d="M106.80,355.40 L112.60,348.90 L134.30,347.40 L137.00,350.00 L137.00,367.60 L128.50,369.80 L111.20,369.10 Z" fill="#7468cf" stroke="#4d48b8" stroke-width="1.5" stroke-linejoin="round"/><circle cx="120.00" cy="356.00" r="5.00" fill="#a496de" opacity="0.75" filter="url(#bl2)"/><ellipse cx="128.50" cy="366.20" rx="4.00" ry="3.00" fill="#d6e9dc" stroke="#b8d8d4" stroke-width="0.8"/></g>
<g filter="url(#bl1)"><path d="M64.76,374.64 Q66.87,378.00 65.18,381.56 Q63.49,385.12 59.00,387.29 Q54.50,389.45 49.25,388.92 Q44.01,388.39 39.55,386.61 Q35.09,384.83 33.63,381.42 Q32.16,378.00 33.68,374.61 Q35.20,371.22 39.59,369.38 Q43.98,367.55 49.02,367.51 Q54.06,367.47 58.36,369.38 Q62.66,371.29 64.76,374.64 Z" fill="#d6e9dc" stroke="#a9cfd6" stroke-width="1.4"/><path d="M61.92,375.23 Q63.42,378.00 62.46,381.03 Q61.49,384.05 57.63,385.92 Q53.77,387.79 48.94,387.92 Q44.11,388.04 40.79,385.81 Q37.47,383.58 36.06,380.79 Q34.65,378.00 36.10,375.23 Q37.55,372.45 41.06,370.68 Q44.57,368.91 49.19,368.52 Q53.81,368.13 57.11,370.30 Q60.42,372.47 61.92,375.23 Z" fill="#7466d0" stroke="#4d48b8" stroke-width="1.5" stroke-linejoin="round"/><circle cx="46.00" cy="376.00" r="5.00" fill="#a496de" opacity="0.75" filter="url(#bl2)"/></g>
<g filter="url(#bl1)"><path d="M102.50,386.00 L105.40,373.40 L112.60,369.80 L128.50,371.90 L131.40,386.00 Z" fill="#7468cf" stroke="#4d48b8" stroke-width="1.5" stroke-linejoin="round"/><circle cx="116.00" cy="378.00" r="4.00" fill="#a496de" opacity="0.75" filter="url(#bl2)"/></g>
<g filter="url(#bl1)"><path d="M69.30,386.00 L72.20,380.50 L83.80,379.50 L88.10,386.00 Z" fill="#7468cf" stroke="#4d48b8" stroke-width="1.5" stroke-linejoin="round"/></g>
</g></g>
<rect x="1.8" y="268.9" width="134.6" height="115.10000000000002" fill="none" stroke="#111" stroke-width="1.6"/>
<g clip-path="url(#cp1)">
<rect x="156.6" y="269.7" width="133.20000000000002" height="114.30000000000001" fill="#fdfdff"/>
<path d="M185.68,282.78 Q185.92,283.80 185.65,284.79 Q185.39,285.78 184.34,286.36 Q183.30,286.93 182.16,286.45 Q181.02,285.96 180.54,284.88 Q180.05,283.80 180.64,282.82 Q181.23,281.83 182.26,281.24 Q183.30,280.64 184.37,281.20 Q185.45,281.76 185.68,282.78 Z" fill="#3c3ce0" stroke="#2c2cc8" stroke-width="0.7" filter="url(#bl1)"/>
<path d="M183.10,288.29 Q183.69,289.20 183.09,290.10 Q182.49,290.99 181.54,291.76 Q180.60,292.53 179.38,292.03 Q178.15,291.52 177.90,290.36 Q177.64,289.20 177.99,288.13 Q178.35,287.07 179.48,286.85 Q180.60,286.64 181.55,287.01 Q182.51,287.39 183.10,288.29 Z" fill="#3c3ce0" stroke="#2c2cc8" stroke-width="0.7" filter="url(#bl1)"/>
<path d="M180.39,293.92 Q180.69,295.30 180.42,296.70 Q180.15,298.10 178.67,298.37 Q177.20,298.65 175.68,298.42 Q174.16,298.19 173.60,296.75 Q173.04,295.30 173.77,294.01 Q174.49,292.72 175.84,292.03 Q177.20,291.34 178.65,291.94 Q180.10,292.55 180.39,293.92 Z" fill="#3c3ce0" stroke="#2c2cc8" stroke-width="0.7" filter="url(#bl1)"/>
<path d="M176.47,296.43 Q177.32,297.30 176.60,298.29 Q175.89,299.28 174.84,299.83 Q173.80,300.37 172.65,299.93 Q171.50,299.49 171.30,298.39 Q171.11,297.30 171.55,296.45 Q172.00,295.59 172.90,294.97 Q173.80,294.34 174.72,294.95 Q175.63,295.56 176.47,296.43 Z" fill="#3c3ce0" stroke="#2c2cc8" stroke-width="0.7" filter="url(#bl1)"/>
<path d="M170.42,300.47 Q171.30,301.30 170.75,302.44 Q170.21,303.59 169.00,303.99 Q167.80,304.39 166.84,303.75 Q165.89,303.12 165.43,302.21 Q164.98,301.30 165.25,300.21 Q165.52,299.13 166.66,298.63 Q167.80,298.14 168.68,298.89 Q169.55,299.64 170.42,300.47 Z" fill="#3c3ce0" stroke="#2c2cc8" stroke-width="0.7" filter="url(#bl1)"/>
<path d="M160.41,291.53 Q160.82,292.00 160.44,292.51 Q160.07,293.02 159.53,293.35 Q159.00,293.68 158.34,293.46 Q157.68,293.25 157.60,292.62 Q157.51,292.00 157.63,291.41 Q157.76,290.82 158.38,290.70 Q159.00,290.57 159.50,290.81 Q159.99,291.06 160.41,291.53 Z" fill="#3c3ce0" stroke="#2c2cc8" stroke-width="0.7" filter="url(#bl1)"/>
<path d="M207.22,284.23 Q207.60,285.20 207.25,286.20 Q206.90,287.20 205.85,287.22 Q204.80,287.24 203.73,287.23 Q202.67,287.22 202.28,286.21 Q201.90,285.20 202.58,284.47 Q203.25,283.73 204.03,283.09 Q204.80,282.46 205.82,282.86 Q206.84,283.26 207.22,284.23 Z" fill="#3c3ce0" stroke="#2c2cc8" stroke-width="0.7" filter="url(#bl1)"/>
<path d="M215.51,283.31 Q215.63,284.50 215.35,285.54 Q215.08,286.57 213.99,287.20 Q212.90,287.83 211.78,287.23 Q210.66,286.63 210.29,285.56 Q209.92,284.50 210.42,283.56 Q210.92,282.62 211.91,282.32 Q212.90,282.02 214.15,282.07 Q215.40,282.12 215.51,283.31 Z" fill="#3c3ce0" stroke="#2c2cc8" stroke-width="0.7" filter="url(#bl1)"/>
<path d="M210.93,292.34 Q211.57,294.00 211.35,296.06 Q211.13,298.11 208.97,299.03 Q206.80,299.94 204.94,298.74 Q203.07,297.54 202.41,295.77 Q201.74,294.00 202.54,292.35 Q203.34,290.71 205.07,290.14 Q206.80,289.56 208.54,290.12 Q210.29,290.68 210.93,292.34 Z" fill="#5656e0" stroke="#3a3ad0" stroke-width="0.7" filter="url(#bl1)"/>
<path d="M224.05,285.49 Q224.36,286.50 224.03,287.49 Q223.69,288.49 222.65,288.94 Q221.60,289.40 220.69,288.81 Q219.78,288.23 219.19,287.36 Q218.60,286.50 218.86,285.33 Q219.13,284.15 220.37,283.87 Q221.60,283.59 222.67,284.03 Q223.74,284.47 224.05,285.49 Z" fill="#8a8ce6" stroke="#7074e0" stroke-width="0.7" filter="url(#bl1)"/>
<path d="M198.91,306.86 Q200.03,308.00 199.07,309.29 Q198.11,310.58 196.76,311.41 Q195.40,312.24 194.11,311.34 Q192.83,310.44 192.13,309.22 Q191.43,308.00 192.11,306.77 Q192.80,305.53 194.10,304.84 Q195.40,304.14 196.60,304.93 Q197.80,305.72 198.91,306.86 Z" fill="#3c3ce0" stroke="#2c2cc8" stroke-width="0.7" filter="url(#bl1)"/>
<path d="M179.38,322.15 Q179.99,322.90 179.39,323.65 Q178.78,324.41 177.99,325.03 Q177.20,325.65 176.32,325.11 Q175.44,324.58 175.11,323.74 Q174.79,322.90 175.07,322.02 Q175.36,321.15 176.28,320.98 Q177.20,320.81 177.99,321.11 Q178.77,321.41 179.38,322.15 Z" fill="#3c3ce0" stroke="#2c2cc8" stroke-width="0.7" filter="url(#bl1)"/>
<path d="M213.28,326.84 Q214.26,328.50 213.59,330.46 Q212.92,332.42 210.86,333.18 Q208.80,333.95 206.72,333.21 Q204.63,332.46 203.57,330.48 Q202.50,328.50 203.53,326.49 Q204.56,324.47 206.68,324.19 Q208.80,323.91 210.55,324.54 Q212.30,325.18 213.28,326.84 Z" fill="#8a8ce6" stroke="#7074e0" stroke-width="0.7" filter="url(#bl1)"/>
<path d="M266.58,277.53 Q266.69,279.80 266.60,282.08 Q266.50,284.36 264.10,285.16 Q261.70,285.96 259.95,284.54 Q258.19,283.13 256.89,281.47 Q255.59,279.80 256.72,277.97 Q257.86,276.15 259.78,274.73 Q261.70,273.32 264.09,274.29 Q266.48,275.26 266.58,277.53 Z" fill="#16165a" stroke="#0c0c3a" stroke-width="0.7" filter="url(#bl1)"/>
<path d="M266.19,287.53 Q266.42,288.60 265.97,289.46 Q265.51,290.32 264.61,290.97 Q263.70,291.62 262.74,291.02 Q261.77,290.43 261.17,289.51 Q260.57,288.60 261.20,287.72 Q261.84,286.84 262.77,286.05 Q263.70,285.26 264.83,285.86 Q265.95,286.46 266.19,287.53 Z" fill="#3c3ce0" stroke="#2c2cc8" stroke-width="0.7" filter="url(#bl1)"/>
<path d="M282.52,284.65 Q283.20,285.90 282.30,286.95 Q281.40,287.99 280.30,288.38 Q279.20,288.76 278.14,288.34 Q277.07,287.92 276.23,286.91 Q275.38,285.90 275.89,284.57 Q276.41,283.25 277.80,282.62 Q279.20,281.99 280.52,282.69 Q281.83,283.40 282.52,284.65 Z" fill="#3c3ce0" stroke="#2c2cc8" stroke-width="0.7" filter="url(#bl1)"/>
<path d="M239.77,302.27 Q240.29,303.10 239.81,303.97 Q239.33,304.84 238.42,305.25 Q237.50,305.66 236.77,305.07 Q236.04,304.48 235.46,303.79 Q234.87,303.10 235.22,302.19 Q235.58,301.28 236.54,301.01 Q237.50,300.74 238.38,301.09 Q239.26,301.43 239.77,302.27 Z" fill="#3c3ce0" stroke="#2c2cc8" stroke-width="0.7" filter="url(#bl1)"/>
<path d="M263.74,309.24 Q263.97,310.10 263.61,310.84 Q263.25,311.58 262.48,311.98 Q261.70,312.39 260.92,311.98 Q260.15,311.57 259.72,310.84 Q259.28,310.10 259.73,309.38 Q260.18,308.65 260.94,308.18 Q261.70,307.70 262.60,308.04 Q263.51,308.38 263.74,309.24 Z" fill="#3c3ce0" stroke="#2c2cc8" stroke-width="0.7" filter="url(#bl1)"/>
<path d="M246.96,318.98 Q247.21,319.50 246.88,319.95 Q246.54,320.39 246.07,320.56 Q245.60,320.72 245.10,320.59 Q244.59,320.46 244.27,319.98 Q243.96,319.50 244.28,319.03 Q244.61,318.56 245.11,318.22 Q245.60,317.88 246.15,318.17 Q246.70,318.45 246.96,318.98 Z" fill="#3c3ce0" stroke="#2c2cc8" stroke-width="0.7" filter="url(#bl1)"/>
<path d="M233.59,322.19 Q234.28,322.90 233.62,323.64 Q232.96,324.39 232.18,324.95 Q231.40,325.52 230.50,325.06 Q229.61,324.60 229.04,323.75 Q228.47,322.90 229.03,322.04 Q229.60,321.19 230.50,320.89 Q231.40,320.58 232.15,321.03 Q232.90,321.47 233.59,322.19 Z" fill="#3c3ce0" stroke="#2c2cc8" stroke-width="0.7" filter="url(#bl1)"/>
<path d="M269.02,325.33 Q269.52,327.00 268.67,328.34 Q267.83,329.68 266.41,330.83 Q265.00,331.97 263.33,331.07 Q261.66,330.17 261.01,328.59 Q260.35,327.00 260.83,325.25 Q261.31,323.50 263.16,323.43 Q265.00,323.35 266.76,323.51 Q268.52,323.66 269.02,325.33 Z" fill="#3c3ce0" stroke="#2c2cc8" stroke-width="0.7" filter="url(#bl1)"/>
<path d="M226.96,284.97 Q227.25,285.90 227.07,286.94 Q226.89,287.98 225.79,288.31 Q224.70,288.65 223.48,288.43 Q222.26,288.22 221.92,287.06 Q221.58,285.90 222.07,284.88 Q222.56,283.87 223.63,283.23 Q224.70,282.60 225.68,283.32 Q226.66,284.04 226.96,284.97 Z" fill="#8a8ce6" stroke="#7074e0" stroke-width="0.7" filter="url(#bl1)"/>
<path d="M171.39,339.69 Q171.81,341.20 171.27,342.59 Q170.73,343.98 169.26,344.36 Q167.80,344.73 166.17,344.52 Q164.53,344.30 164.00,342.75 Q163.47,341.20 164.09,339.73 Q164.71,338.26 166.25,337.86 Q167.80,337.46 169.39,337.82 Q170.97,338.19 171.39,339.69 Z" fill="#5656e0" stroke="#3a3ad0" stroke-width="0.7" filter="url(#bl1)"/>
<path d="M185.66,345.62 Q186.09,347.20 185.50,348.63 Q184.91,350.06 183.41,350.93 Q181.90,351.79 180.38,350.94 Q178.86,350.08 177.52,348.64 Q176.18,347.20 177.57,345.80 Q178.95,344.40 180.43,343.39 Q181.90,342.39 183.56,343.22 Q185.22,344.04 185.66,345.62 Z" fill="#8a8ce6" stroke="#7074e0" stroke-width="0.7" filter="url(#bl1)"/>
<path d="M178.33,348.87 Q179.28,349.90 178.50,351.10 Q177.72,352.29 176.46,352.57 Q175.20,352.84 173.76,352.74 Q172.31,352.65 172.06,351.27 Q171.81,349.90 172.14,348.60 Q172.47,347.31 173.83,347.22 Q175.20,347.14 176.29,347.48 Q177.38,347.83 178.33,348.87 Z" fill="#3c3ce0" stroke="#2c2cc8" stroke-width="0.7" filter="url(#bl1)"/>
<path d="M183.77,357.38 Q184.89,359.30 183.50,360.96 Q182.10,362.63 180.35,363.87 Q178.60,365.10 176.79,363.92 Q174.99,362.73 173.81,361.01 Q172.63,359.30 173.77,357.55 Q174.92,355.80 176.76,354.84 Q178.60,353.87 180.63,354.66 Q182.65,355.45 183.77,357.38 Z" fill="#16165a" stroke="#0c0c3a" stroke-width="0.7" filter="url(#bl1)"/>
<path d="M204.97,344.88 Q205.69,345.90 205.17,347.11 Q204.64,348.32 203.37,348.74 Q202.10,349.17 200.80,348.77 Q199.50,348.37 199.07,347.14 Q198.64,345.90 199.14,344.74 Q199.65,343.57 200.87,343.28 Q202.10,342.99 203.17,343.42 Q204.25,343.86 204.97,344.88 Z" fill="#5656e0" stroke="#3a3ad0" stroke-width="0.7" filter="url(#bl1)"/>
<path d="M209.83,366.54 Q210.28,368.10 210.04,369.85 Q209.79,371.61 207.95,372.28 Q206.10,372.96 204.59,371.97 Q203.08,370.97 202.51,369.54 Q201.95,368.10 201.98,366.15 Q202.00,364.21 204.05,363.86 Q206.10,363.51 207.74,364.25 Q209.38,364.98 209.83,366.54 Z" fill="#3c3ce0" stroke="#2c2cc8" stroke-width="0.7" filter="url(#bl1)"/>
<path d="M213.80,358.08 Q214.83,359.30 213.80,360.52 Q212.76,361.73 211.48,362.42 Q210.20,363.12 208.97,362.37 Q207.74,361.63 207.31,360.47 Q206.88,359.30 207.30,358.12 Q207.72,356.95 208.96,356.13 Q210.20,355.31 211.49,356.08 Q212.78,356.85 213.80,358.08 Z" fill="#8a8ce6" stroke="#7074e0" stroke-width="0.7" filter="url(#bl1)"/>
<path d="M223.38,366.21 Q224.49,368.10 223.73,370.32 Q222.97,372.54 220.64,372.94 Q218.30,373.33 215.89,373.01 Q213.47,372.69 212.47,370.39 Q211.46,368.10 212.41,365.75 Q213.36,363.41 215.83,362.77 Q218.30,362.13 220.29,363.22 Q222.28,364.32 223.38,366.21 Z" fill="#16165a" stroke="#0c0c3a" stroke-width="0.7" filter="url(#bl1)"/>
<path d="M221.08,374.52 Q221.94,376.10 221.04,377.64 Q220.15,379.18 218.52,380.22 Q216.90,381.26 214.94,380.54 Q212.99,379.82 212.31,377.96 Q211.63,376.10 212.80,374.71 Q213.97,373.32 215.44,372.56 Q216.90,371.79 218.56,372.37 Q220.23,372.94 221.08,374.52 Z" fill="#3c3ce0" stroke="#2c2cc8" stroke-width="0.7" filter="url(#bl1)"/>
<path d="M199.48,375.23 Q199.73,376.10 199.54,377.02 Q199.34,377.94 198.37,378.03 Q197.40,378.12 196.58,377.89 Q195.77,377.65 195.38,376.88 Q195.00,376.10 195.19,375.14 Q195.38,374.18 196.39,374.02 Q197.40,373.85 198.31,374.11 Q199.23,374.36 199.48,375.23 Z" fill="#3c3ce0" stroke="#2c2cc8" stroke-width="0.7" filter="url(#bl1)"/>
<path d="M212.84,381.77 Q213.11,382.90 212.68,383.87 Q212.25,384.85 211.23,385.50 Q210.20,386.16 208.99,385.68 Q207.77,385.20 207.59,384.05 Q207.41,382.90 207.61,381.77 Q207.81,380.63 209.01,380.11 Q210.20,379.58 211.39,380.11 Q212.58,380.64 212.84,381.77 Z" fill="#16165a" stroke="#0c0c3a" stroke-width="0.7" filter="url(#bl1)"/>
<path d="M270.37,328.83 Q271.09,331.00 270.20,333.00 Q269.32,335.00 267.21,336.13 Q265.10,337.25 262.74,336.36 Q260.39,335.48 259.92,333.24 Q259.45,331.00 260.12,328.95 Q260.79,326.90 262.94,325.98 Q265.10,325.05 267.38,325.86 Q269.66,326.67 270.37,328.83 Z" fill="#3c3ce0" stroke="#2c2cc8" stroke-width="0.7" filter="url(#bl1)"/>
<path d="M233.79,342.51 Q234.18,343.80 233.54,344.85 Q232.91,345.90 231.80,346.80 Q230.70,347.70 229.28,347.10 Q227.86,346.50 227.37,345.15 Q226.89,343.80 227.41,342.48 Q227.93,341.16 229.31,341.10 Q230.70,341.04 232.05,341.13 Q233.41,341.23 233.79,342.51 Z" fill="#3c3ce0" stroke="#2c2cc8" stroke-width="0.7" filter="url(#bl1)"/>
<path d="M248.89,342.16 Q249.38,343.20 248.90,344.25 Q248.42,345.31 247.31,345.72 Q246.20,346.13 245.14,345.67 Q244.09,345.21 243.47,344.20 Q242.85,343.20 243.61,342.33 Q244.37,341.46 245.28,341.02 Q246.20,340.57 247.30,340.84 Q248.39,341.12 248.89,342.16 Z" fill="#5656e0" stroke="#3a3ad0" stroke-width="0.7" filter="url(#bl1)"/>
<path d="M233.72,350.64 Q234.15,351.20 233.84,351.88 Q233.53,352.56 232.81,352.81 Q232.10,353.05 231.33,352.86 Q230.55,352.67 230.35,351.94 Q230.16,351.20 230.51,350.62 Q230.87,350.03 231.48,349.62 Q232.10,349.21 232.69,349.64 Q233.28,350.08 233.72,350.64 Z" fill="#3c3ce0" stroke="#2c2cc8" stroke-width="0.7" filter="url(#bl1)"/>
<path d="M288.41,342.45 Q288.68,343.80 288.36,345.10 Q288.04,346.40 286.67,347.34 Q285.30,348.27 284.02,347.25 Q282.75,346.23 282.13,345.01 Q281.52,343.80 281.83,342.30 Q282.15,340.80 283.72,340.13 Q285.30,339.45 286.72,340.28 Q288.14,341.10 288.41,342.45 Z" fill="#3c3ce0" stroke="#2c2cc8" stroke-width="0.7" filter="url(#bl1)"/>
<path d="M243.06,366.62 Q243.50,368.10 243.06,369.58 Q242.62,371.07 241.06,371.87 Q239.50,372.68 238.08,371.74 Q236.65,370.81 235.53,369.45 Q234.41,368.10 235.51,366.73 Q236.61,365.35 238.05,364.86 Q239.50,364.37 241.06,364.75 Q242.62,365.14 243.06,366.62 Z" fill="#3c3ce0" stroke="#2c2cc8" stroke-width="0.7" filter="url(#bl1)"/>
<path d="M249.52,367.25 Q249.65,368.10 249.57,369.00 Q249.49,369.90 248.55,370.20 Q247.60,370.51 246.59,370.26 Q245.58,370.02 245.14,369.06 Q244.70,368.10 245.22,367.21 Q245.73,366.33 246.67,365.92 Q247.60,365.51 248.50,365.95 Q249.40,366.39 249.52,367.25 Z" fill="#5656e0" stroke="#3a3ad0" stroke-width="0.7" filter="url(#bl1)"/>
<path d="M283.78,357.26 Q284.84,358.60 283.73,359.89 Q282.62,361.18 281.26,361.85 Q279.90,362.52 278.29,362.09 Q276.68,361.66 276.40,360.13 Q276.12,358.60 276.29,356.97 Q276.46,355.34 278.18,355.20 Q279.90,355.07 281.31,355.49 Q282.73,355.92 283.78,357.26 Z" fill="#3c3ce0" stroke="#2c2cc8" stroke-width="0.7" filter="url(#bl1)"/>
<path d="M284.49,364.37 Q284.92,365.40 284.29,366.24 Q283.66,367.07 282.78,367.81 Q281.90,368.54 280.96,367.86 Q280.03,367.18 279.36,366.29 Q278.69,365.40 279.42,364.57 Q280.16,363.75 281.03,363.27 Q281.90,362.79 282.98,363.06 Q284.07,363.34 284.49,364.37 Z" fill="#3c3ce0" stroke="#2c2cc8" stroke-width="0.7" filter="url(#bl1)"/>
<path d="M280.88,373.51 Q281.83,374.80 281.21,376.41 Q280.59,378.02 278.89,378.54 Q277.20,379.06 275.62,378.43 Q274.03,377.81 273.49,376.30 Q272.95,374.80 273.29,373.11 Q273.64,371.41 275.42,371.15 Q277.20,370.89 278.56,371.55 Q279.92,372.21 280.88,373.51 Z" fill="#3c3ce0" stroke="#2c2cc8" stroke-width="0.7" filter="url(#bl1)"/>
<path d="M285.77,376.11 Q286.19,376.80 285.84,377.56 Q285.49,378.31 284.70,378.35 Q283.90,378.39 283.26,378.20 Q282.63,378.01 282.35,377.41 Q282.08,376.80 282.23,376.07 Q282.37,375.34 283.13,375.12 Q283.90,374.90 284.63,375.16 Q285.35,375.42 285.77,376.11 Z" fill="#3c3ce0" stroke="#2c2cc8" stroke-width="0.7" filter="url(#bl1)"/>
<path d="M247.04,380.63 Q247.35,381.50 247.00,382.33 Q246.64,383.15 245.77,383.70 Q244.90,384.26 243.95,383.78 Q242.99,383.31 242.56,382.41 Q242.12,381.50 242.76,380.78 Q243.39,380.07 244.15,379.64 Q244.90,379.20 245.81,379.48 Q246.72,379.77 247.04,380.63 Z" fill="#3c3ce0" stroke="#2c2cc8" stroke-width="0.7" filter="url(#bl1)"/>
<path d="M226.13,368.32 Q226.70,369.40 226.18,370.52 Q225.66,371.64 224.48,372.15 Q223.30,372.67 222.43,371.86 Q221.56,371.05 221.19,370.23 Q220.81,369.40 221.06,368.46 Q221.32,367.51 222.31,366.88 Q223.30,366.25 224.43,366.75 Q225.56,367.25 226.13,368.32 Z" fill="#16165a" stroke="#0c0c3a" stroke-width="0.7" filter="url(#bl1)"/>
</g>
<rect x="156.6" y="269.7" width="133.20000000000002" height="114.30000000000001" fill="none" stroke="#111" stroke-width="1.6"/>
<g clip-path="url(#cp2)">
<rect x="312.2" y="269.7" width="134.60000000000002" height="114.10000000000002" fill="#fefefb"/>
<g filter="url(#tex2)">
<g filter="url(#bl1)"><path d="M347.20,272.93 Q348.59,275.50 347.23,278.09 Q345.87,280.68 342.14,282.34 Q338.40,284.01 334.01,283.21 Q329.62,282.41 326.17,280.46 Q322.73,278.52 323.26,275.62 Q323.78,272.72 326.76,270.72 Q329.74,268.72 334.03,268.01 Q338.31,267.30 342.07,268.82 Q345.82,270.35 347.20,272.93 Z" fill="#c2ad70" stroke="#a08452" stroke-width="1.1"/><ellipse cx="335.45" cy="275.65" rx="9.68" ry="6.05" fill="#ece6bc" opacity="0.45"/><path d="M339.10,274.23 Q340.00,275.80 339.16,277.43 Q338.33,279.05 336.61,279.57 Q334.90,280.08 333.19,279.57 Q331.47,279.06 330.52,277.43 Q329.58,275.80 330.50,274.15 Q331.42,272.49 333.16,271.73 Q334.90,270.97 336.55,271.82 Q338.20,272.67 339.10,274.23 Z" fill="#2b2bb8" stroke="#1a1a88" stroke-width="0.7"/></g>
<g filter="url(#bl1)"><path d="M349.38,288.57 Q350.68,292.50 349.28,296.36 Q347.88,300.23 343.62,302.01 Q339.35,303.79 334.65,303.32 Q329.94,302.84 326.39,299.85 Q322.83,296.86 322.89,292.52 Q322.95,288.17 326.35,285.02 Q329.75,281.88 334.68,280.91 Q339.62,279.94 343.85,282.29 Q348.08,284.64 349.38,288.57 Z" fill="#c2ad70" stroke="#a08452" stroke-width="1.1"/><ellipse cx="338.65" cy="292.55" rx="10.48" ry="8.87" fill="#ece6bc" opacity="0.45"/><path d="M345.12,290.58 Q345.69,292.60 345.06,294.56 Q344.42,296.52 342.36,297.17 Q340.30,297.82 338.37,297.04 Q336.44,296.26 335.77,294.43 Q335.09,292.60 335.69,290.69 Q336.28,288.78 338.29,288.21 Q340.30,287.63 342.43,288.09 Q344.56,288.56 345.12,290.58 Z" fill="#2b2bb8" stroke="#1a1a88" stroke-width="0.7"/></g>
<g filter="url(#bl1)"><path d="M336.80,302.13 Q338.78,306.00 337.20,310.22 Q335.63,314.45 331.87,316.49 Q328.11,318.52 324.11,317.60 Q320.10,316.68 317.12,313.60 Q314.14,310.51 313.90,305.91 Q313.66,301.31 316.78,298.13 Q319.90,294.96 324.07,293.83 Q328.24,292.69 331.53,295.48 Q334.82,298.26 336.80,302.13 Z" fill="#c4b070" stroke="#a08452" stroke-width="1.1"/><ellipse cx="326.40" cy="305.00" rx="8.87" ry="9.27" fill="#ece6bc" opacity="0.45"/><path d="M331.75,302.15 Q332.81,304.00 331.77,305.86 Q330.72,307.72 328.76,308.50 Q326.80,309.28 324.87,308.48 Q322.93,307.68 322.29,305.84 Q321.64,304.00 322.46,302.32 Q323.27,300.65 325.04,299.76 Q326.80,298.88 328.75,299.59 Q330.69,300.30 331.75,302.15 Z" fill="#2b2bb8" stroke="#1a1a88" stroke-width="0.7"/></g>
<g filter="url(#bl1)"><path d="M322.79,319.03 Q323.39,322.00 322.84,325.02 Q322.29,328.04 319.84,329.49 Q317.38,330.95 314.81,330.20 Q312.24,329.45 310.29,327.32 Q308.34,325.18 308.44,322.04 Q308.54,318.89 310.22,316.39 Q311.90,313.88 314.64,313.46 Q317.38,313.04 319.79,314.55 Q322.19,316.06 322.79,319.03 Z" fill="#c2ad70" stroke="#a08452" stroke-width="1.1"/><ellipse cx="316.00" cy="321.75" rx="5.64" ry="6.45" fill="#ece6bc" opacity="0.45"/><path d="M319.20,320.18 Q319.63,321.50 319.36,322.97 Q319.09,324.44 317.55,324.75 Q316.00,325.07 314.45,324.76 Q312.89,324.45 312.27,322.98 Q311.64,321.50 312.48,320.22 Q313.31,318.94 314.65,318.32 Q316.00,317.69 317.39,318.28 Q318.77,318.87 319.20,320.18 Z" fill="#2b2bb8" stroke="#1a1a88" stroke-width="0.7"/></g>
<g filter="url(#bl1)"><path d="M388.87,272.10 Q389.63,274.40 388.45,276.43 Q387.27,278.47 384.82,279.78 Q382.37,281.10 379.46,280.51 Q376.55,279.92 374.48,278.31 Q372.40,276.69 372.49,274.42 Q372.58,272.16 374.39,270.29 Q376.20,268.42 379.24,268.26 Q382.28,268.10 385.20,268.95 Q388.11,269.80 388.87,272.10 Z" fill="#c2ad70" stroke="#a08452" stroke-width="1.1"/><ellipse cx="380.80" cy="274.40" rx="6.45" ry="4.84" fill="#ece6bc" opacity="0.45"/><path d="M384.50,272.86 Q384.97,274.40 384.45,275.89 Q383.94,277.38 382.37,278.18 Q380.80,278.98 379.22,278.18 Q377.65,277.39 377.09,275.90 Q376.54,274.40 377.03,272.84 Q377.51,271.28 379.16,270.78 Q380.80,270.29 382.42,270.81 Q384.04,271.33 384.50,272.86 Z" fill="#2b2bb8" stroke="#1a1a88" stroke-width="0.7"/></g>
<g filter="url(#bl1)"><path d="M409.34,282.09 Q411.44,286.00 409.86,290.27 Q408.29,294.54 403.46,296.64 Q398.64,298.75 393.35,297.95 Q388.06,297.15 384.28,293.88 Q380.49,290.61 381.11,286.19 Q381.73,281.76 384.64,277.93 Q387.54,274.10 393.08,273.69 Q398.63,273.28 402.93,275.73 Q407.24,278.19 409.34,282.09 Z" fill="#c8ae70" stroke="#a08452" stroke-width="1.1"/><ellipse cx="394.10" cy="286.30" rx="11.29" ry="9.27" fill="#ece6bc" opacity="0.45"/><path d="M397.90,284.40 Q398.86,286.60 398.09,288.98 Q397.32,291.36 394.81,292.39 Q392.30,293.42 389.93,292.26 Q387.56,291.10 386.66,288.85 Q385.76,286.60 386.42,284.12 Q387.08,281.64 389.69,280.72 Q392.30,279.79 394.62,280.99 Q396.94,282.19 397.90,284.40 Z" fill="#2020a8" stroke="#1a1a88" stroke-width="0.7"/></g>
<g filter="url(#bl1)"><path d="M430.50,292.03 Q431.45,296.00 430.36,299.85 Q429.26,303.70 425.94,306.12 Q422.61,308.53 418.47,307.86 Q414.34,307.18 411.59,303.81 Q408.84,300.45 408.78,295.98 Q408.72,291.51 411.80,288.65 Q414.88,285.80 418.68,285.04 Q422.47,284.28 426.01,286.16 Q429.54,288.05 430.50,292.03 Z" fill="#d4cc98" stroke="#a08452" stroke-width="1.1"/><ellipse cx="419.05" cy="297.45" rx="8.47" ry="8.87" fill="#ece6bc" opacity="0.45"/><path d="M422.32,296.99 Q423.02,298.90 422.27,300.76 Q421.51,302.61 419.55,303.21 Q417.60,303.80 415.55,303.30 Q413.51,302.79 412.96,300.84 Q412.42,298.90 412.98,296.97 Q413.54,295.04 415.57,294.42 Q417.60,293.80 419.61,294.44 Q421.62,295.08 422.32,296.99 Z" fill="#2b2bb8" stroke="#1a1a88" stroke-width="0.7"/></g>
<g filter="url(#bl1)"><path d="M416.64,304.79 Q418.07,309.70 416.49,314.49 Q414.92,319.28 410.54,322.01 Q406.15,324.75 401.33,323.28 Q396.50,321.82 393.49,318.13 Q390.47,314.44 389.98,309.52 Q389.49,304.60 392.93,300.98 Q396.38,297.36 401.24,296.17 Q406.10,294.97 410.65,297.43 Q415.20,299.88 416.64,304.79 Z" fill="#d8d0a0" stroke="#a08452" stroke-width="1.1"/><ellipse cx="404.05" cy="309.70" rx="10.48" ry="10.48" fill="#ece6bc" opacity="0.45"/><path d="M411.61,306.95 Q412.82,309.70 411.43,312.28 Q410.03,314.86 407.32,316.23 Q404.60,317.59 401.76,316.34 Q398.92,315.10 397.82,312.40 Q396.72,309.70 398.10,307.27 Q399.49,304.84 402.04,303.56 Q404.60,302.27 407.50,303.23 Q410.40,304.19 411.61,306.95 Z" fill="#3434bc" stroke="#1a1a88" stroke-width="0.7"/></g>
<g filter="url(#bl1)"><path d="M442.76,307.55 Q443.58,310.50 442.81,313.49 Q442.03,316.49 439.20,317.63 Q436.36,318.78 433.30,318.68 Q430.23,318.58 428.50,316.02 Q426.77,313.46 426.59,310.43 Q426.40,307.41 428.31,304.90 Q430.21,302.38 433.31,302.18 Q436.40,301.98 439.17,303.29 Q441.94,304.60 442.76,307.55 Z" fill="#d8d0a0" stroke="#a08452" stroke-width="1.1"/><ellipse cx="434.55" cy="310.50" rx="6.45" ry="6.45" fill="#ece6bc" opacity="0.45"/><path d="M438.46,308.68 Q438.89,310.50 438.48,312.34 Q438.07,314.17 436.13,314.64 Q434.20,315.11 432.33,314.59 Q430.45,314.06 429.94,312.28 Q429.43,310.50 430.07,308.84 Q430.71,307.18 432.45,306.30 Q434.20,305.41 436.11,306.14 Q438.03,306.86 438.46,308.68 Z" fill="#2b2bb8" stroke="#1a1a88" stroke-width="0.7"/></g>
<g filter="url(#bl1)"><path d="M434.19,314.97 Q435.29,318.40 433.65,321.42 Q432.01,324.45 429.04,326.71 Q426.07,328.97 422.32,327.92 Q418.57,326.87 415.92,324.39 Q413.27,321.92 413.60,318.51 Q413.94,315.11 416.22,312.47 Q418.51,309.83 422.25,309.01 Q426.00,308.18 429.55,309.85 Q433.09,311.53 434.19,314.97 Z" fill="#d4cc9c" stroke="#a08452" stroke-width="1.1"/><ellipse cx="424.00" cy="318.40" rx="8.06" ry="7.26" fill="#ece6bc" opacity="0.45"/><path d="M429.67,316.05 Q430.39,318.40 429.42,320.52 Q428.46,322.63 426.23,323.64 Q424.00,324.65 421.33,324.06 Q418.66,323.47 418.04,320.94 Q417.42,318.40 418.12,315.94 Q418.82,313.48 421.41,312.44 Q424.00,311.40 426.47,312.55 Q428.95,313.70 429.67,316.05 Z" fill="#5a5ac8" stroke="#1a1a88" stroke-width="0.7"/></g>
<g filter="url(#bl1)"><path d="M405.06,323.21 Q406.22,325.60 405.33,328.18 Q404.44,330.77 401.72,332.17 Q399.01,333.57 395.99,332.93 Q392.98,332.30 391.18,330.23 Q389.37,328.16 389.46,325.63 Q389.55,323.10 391.30,321.05 Q393.05,319.01 395.95,318.69 Q398.86,318.38 401.38,319.60 Q403.91,320.82 405.06,323.21 Z" fill="#d8d0a0" stroke="#a08452" stroke-width="1.1"/><ellipse cx="397.40" cy="325.60" rx="6.45" ry="5.64" fill="#ece6bc" opacity="0.45"/><path d="M401.80,323.82 Q402.45,325.60 401.58,327.17 Q400.72,328.75 399.06,329.44 Q397.40,330.12 395.71,329.47 Q394.02,328.82 393.16,327.21 Q392.31,325.60 392.96,323.80 Q393.60,321.99 395.50,321.41 Q397.40,320.83 399.27,321.44 Q401.14,322.05 401.80,323.82 Z" fill="#2222a8" stroke="#1a1a88" stroke-width="0.7"/></g>
<g filter="url(#bl1)"><path d="M447.30,322.09 Q448.24,324.90 447.27,327.69 Q446.30,330.48 443.47,331.55 Q440.65,332.62 437.57,332.59 Q434.48,332.56 432.55,330.20 Q430.62,327.83 430.61,324.90 Q430.60,321.97 432.55,319.62 Q434.50,317.27 437.61,317.04 Q440.72,316.81 443.54,318.04 Q446.35,319.27 447.30,322.09 Z" fill="#c8b878" stroke="#a08452" stroke-width="1.1"/><ellipse cx="439.20" cy="324.90" rx="6.45" ry="6.05" fill="#ece6bc" opacity="0.45"/><path d="M444.08,323.04 Q445.05,324.90 443.98,326.66 Q442.90,328.42 441.05,329.05 Q439.20,329.68 437.28,329.11 Q435.36,328.55 434.27,326.72 Q433.18,324.90 434.38,323.18 Q435.58,321.46 437.39,320.54 Q439.20,319.62 441.16,320.40 Q443.11,321.18 444.08,323.04 Z" fill="#2b2bb8" stroke="#1a1a88" stroke-width="0.7"/></g>
<g filter="url(#bl1)"><path d="M426.38,331.32 Q427.13,334.40 426.38,337.47 Q425.63,340.55 422.76,342.01 Q419.90,343.48 417.00,342.58 Q414.10,341.68 411.95,339.59 Q409.81,337.49 410.05,334.49 Q410.29,331.48 412.20,329.31 Q414.10,327.13 417.02,326.15 Q419.93,325.17 422.78,326.71 Q425.63,328.25 426.38,331.32 Z" fill="#c8a868" stroke="#a08452" stroke-width="1.1"/><ellipse cx="418.30" cy="334.40" rx="6.45" ry="6.45" fill="#ece6bc" opacity="0.45"/><path d="M422.62,332.74 Q423.45,334.40 422.70,336.13 Q421.95,337.86 420.12,338.28 Q418.30,338.71 416.66,338.11 Q415.01,337.52 413.92,335.96 Q412.83,334.40 413.91,332.82 Q414.98,331.25 416.64,330.36 Q418.30,329.47 420.05,330.28 Q421.79,331.08 422.62,332.74 Z" fill="#2b2bb8" stroke="#1a1a88" stroke-width="0.7"/></g>
<g filter="url(#bl1)"><path d="M447.56,336.38 Q448.52,338.80 447.56,341.22 Q446.60,343.64 444.02,344.82 Q441.45,346.00 438.51,345.76 Q435.57,345.51 433.57,343.50 Q431.57,341.49 431.69,338.84 Q431.80,336.19 433.71,334.17 Q435.62,332.16 438.59,331.61 Q441.56,331.06 444.08,332.51 Q446.59,333.96 447.56,336.38 Z" fill="#c8b070" stroke="#a08452" stroke-width="1.1"/><ellipse cx="440.00" cy="338.80" rx="6.45" ry="5.64" fill="#ece6bc" opacity="0.45"/><path d="M444.13,337.28 Q445.06,338.80 444.47,340.64 Q443.87,342.47 441.93,342.98 Q440.00,343.48 438.10,342.94 Q436.20,342.41 435.75,340.60 Q435.31,338.80 436.01,337.24 Q436.72,335.68 438.36,334.94 Q440.00,334.19 441.60,334.98 Q443.20,335.76 444.13,337.28 Z" fill="#2b2bb8" stroke="#1a1a88" stroke-width="0.7"/></g>
<g filter="url(#bl1)"><path d="M391.10,333.67 Q392.50,339.00 390.66,343.94 Q388.83,348.87 384.59,351.44 Q380.36,354.01 375.47,353.33 Q370.58,352.66 367.46,348.49 Q364.33,344.32 364.54,339.08 Q364.75,333.85 367.92,330.07 Q371.09,326.29 375.71,325.24 Q380.33,324.19 385.01,326.26 Q389.70,328.34 391.10,333.67 Z" fill="#c8a868" stroke="#a08452" stroke-width="1.1"/><ellipse cx="377.90" cy="338.90" rx="10.48" ry="11.29" fill="#ece6bc" opacity="0.45"/><path d="M383.23,336.64 Q384.01,338.80 383.07,340.81 Q382.14,342.83 380.02,343.59 Q377.90,344.36 375.54,343.82 Q373.19,343.28 372.47,341.04 Q371.75,338.80 372.66,336.74 Q373.57,334.69 375.74,333.63 Q377.90,332.57 380.18,333.52 Q382.45,334.48 383.23,336.64 Z" fill="#2b2bb8" stroke="#1a1a88" stroke-width="0.7"/></g>
<g filter="url(#bl1)"><path d="M352.99,333.99 Q354.10,338.50 353.09,343.07 Q352.07,347.65 346.82,349.32 Q341.56,350.99 336.29,350.39 Q331.02,349.79 327.77,346.31 Q324.53,342.83 324.57,338.51 Q324.62,334.20 327.77,330.63 Q330.92,327.06 336.35,326.00 Q341.79,324.94 346.84,327.21 Q351.88,329.48 352.99,333.99 Z" fill="#d8d4a4" stroke="#a08452" stroke-width="1.1"/><ellipse cx="338.90" cy="338.65" rx="11.69" ry="9.68" fill="#ece6bc" opacity="0.45"/><path d="M344.90,336.37 Q345.77,338.80 344.77,341.11 Q343.76,343.42 341.33,344.11 Q338.90,344.81 336.38,344.19 Q333.87,343.58 333.20,341.19 Q332.53,338.80 333.41,336.61 Q334.29,334.42 336.60,333.45 Q338.90,332.48 341.46,333.21 Q344.02,333.93 344.90,336.37 Z" fill="#3a3ac0" stroke="#1a1a88" stroke-width="0.7"/></g>
<g filter="url(#bl1)"><path d="M338.23,356.25 Q340.12,361.50 338.31,366.82 Q336.50,372.15 332.45,375.05 Q328.40,377.96 323.85,376.74 Q319.30,375.52 316.44,371.24 Q313.59,366.96 313.41,361.42 Q313.23,355.89 316.37,351.90 Q319.51,347.91 323.99,346.25 Q328.47,344.59 332.41,347.79 Q336.35,351.00 338.23,356.25 Z" fill="#b89050" stroke="#a08452" stroke-width="1.1"/><ellipse cx="327.10" cy="360.25" rx="9.68" ry="11.69" fill="#ece6bc" opacity="0.45"/><path d="M333.43,356.82 Q334.08,359.00 333.65,361.38 Q333.21,363.76 330.70,364.17 Q328.20,364.57 325.99,363.89 Q323.77,363.21 322.54,361.10 Q321.30,359.00 322.31,356.68 Q323.32,354.36 325.76,353.76 Q328.20,353.16 330.49,353.91 Q332.78,354.65 333.43,356.82 Z" fill="#1c1ca0" stroke="#1a1a88" stroke-width="0.7"/></g>
<g filter="url(#bl1)"><path d="M351.14,354.15 Q352.35,357.00 351.06,359.77 Q349.78,362.55 347.55,364.03 Q345.31,365.52 342.77,365.00 Q340.22,364.49 338.51,362.24 Q336.80,360.00 336.83,357.02 Q336.87,354.03 338.52,351.73 Q340.18,349.43 342.79,348.64 Q345.41,347.84 347.68,349.57 Q349.94,351.30 351.14,354.15 Z" fill="#c89048" stroke="#a08452" stroke-width="1.1"/><ellipse cx="344.50" cy="357.00" rx="5.64" ry="6.45" fill="#ece6bc" opacity="0.45"/><path d="M348.76,355.55 Q349.47,357.00 348.89,358.57 Q348.31,360.15 346.66,360.66 Q345.00,361.18 343.50,360.51 Q342.01,359.84 341.23,358.42 Q340.45,357.00 341.07,355.43 Q341.69,353.85 343.34,353.32 Q345.00,352.78 346.52,353.44 Q348.05,354.11 348.76,355.55 Z" fill="#2b2bb8" stroke="#1a1a88" stroke-width="0.7"/></g>
<g filter="url(#bl1)"><path d="M380.24,364.27 Q381.49,368.50 380.10,372.58 Q378.71,376.67 375.69,379.62 Q372.67,382.57 368.89,381.23 Q365.12,379.89 362.81,376.40 Q360.51,372.91 359.99,368.27 Q359.47,363.64 362.41,360.62 Q365.35,357.60 368.98,356.21 Q372.61,354.82 375.80,357.43 Q379.00,360.04 380.24,364.27 Z" fill="#d4d4a8" stroke="#a08452" stroke-width="1.1"/><ellipse cx="370.60" cy="368.80" rx="8.06" ry="9.68" fill="#ece6bc" opacity="0.45"/><path d="M378.15,366.13 Q379.44,369.10 377.75,371.70 Q376.07,374.29 373.33,375.65 Q370.60,377.01 367.64,375.87 Q364.69,374.72 363.29,371.91 Q361.89,369.10 363.14,366.15 Q364.39,363.20 367.50,362.18 Q370.60,361.16 373.73,362.16 Q376.86,363.15 378.15,366.13 Z" fill="#5252c8" stroke="#1a1a88" stroke-width="0.7"/></g>
<g filter="url(#bl1)"><path d="M348.67,371.81 Q350.41,374.50 348.85,377.32 Q347.29,380.13 344.00,381.44 Q340.72,382.76 336.93,382.62 Q333.13,382.49 331.05,379.94 Q328.96,377.39 328.83,374.46 Q328.69,371.53 331.06,369.22 Q333.43,366.91 337.20,366.00 Q340.98,365.08 343.95,367.10 Q346.93,369.11 348.67,371.81 Z" fill="#d8dcb0" stroke="#a08452" stroke-width="1.1"/><ellipse cx="338.90" cy="374.15" rx="8.06" ry="6.45" fill="#ece6bc" opacity="0.45"/><path d="M342.91,372.22 Q343.58,373.80 343.15,375.62 Q342.73,377.44 340.82,378.13 Q338.90,378.82 337.12,378.00 Q335.34,377.18 334.56,375.49 Q333.79,373.80 334.54,372.09 Q335.29,370.37 337.10,369.65 Q338.90,368.93 340.57,369.78 Q342.23,370.63 342.91,372.22 Z" fill="#2b2bb8" stroke="#1a1a88" stroke-width="0.7"/></g>
<g filter="url(#bl1)"><path d="M411.32,357.96 Q412.59,361.00 410.92,363.77 Q409.26,366.54 406.07,368.03 Q402.88,369.51 399.23,369.02 Q395.58,368.52 393.10,366.27 Q390.62,364.02 390.55,360.98 Q390.49,357.94 392.86,355.48 Q395.24,353.01 399.05,352.76 Q402.87,352.50 406.46,353.71 Q410.06,354.92 411.32,357.96 Z" fill="#dcd8ac" stroke="#a08452" stroke-width="1.1"/><ellipse cx="399.55" cy="361.80" rx="8.06" ry="6.45" fill="#ece6bc" opacity="0.45"/><path d="M402.88,360.65 Q403.54,362.60 402.81,364.50 Q402.09,366.39 400.09,367.08 Q398.10,367.76 396.22,366.96 Q394.35,366.16 393.52,364.38 Q392.69,362.60 393.61,360.90 Q394.53,359.21 396.31,358.29 Q398.10,357.36 400.16,358.03 Q402.21,358.69 402.88,360.65 Z" fill="#2b2bb8" stroke="#1a1a88" stroke-width="0.7"/></g>
<g filter="url(#bl1)"><path d="M436.77,363.80 Q438.00,367.50 436.31,370.89 Q434.61,374.29 430.74,376.24 Q426.86,378.19 422.02,377.91 Q417.18,377.64 414.51,374.41 Q411.84,371.19 411.35,367.36 Q410.86,363.53 414.25,360.76 Q417.64,358.00 422.28,357.27 Q426.91,356.55 431.22,358.32 Q435.53,360.10 436.77,363.80 Z" fill="#d8d4a4" stroke="#a08452" stroke-width="1.1"/><ellipse cx="423.90" cy="369.35" rx="10.08" ry="8.06" fill="#ece6bc" opacity="0.45"/><path d="M428.27,369.20 Q429.03,371.20 428.13,373.06 Q427.22,374.93 425.26,375.95 Q423.30,376.97 421.20,376.08 Q419.11,375.18 417.93,373.19 Q416.74,371.20 417.70,368.99 Q418.65,366.78 420.98,365.89 Q423.30,365.00 425.40,366.11 Q427.50,367.21 428.27,369.20 Z" fill="#2b2bb8" stroke="#1a1a88" stroke-width="0.7"/></g>
<g filter="url(#bl1)"><path d="M385.85,379.32 Q387.31,381.00 385.96,382.73 Q384.61,384.47 382.06,385.42 Q379.51,386.37 376.66,385.95 Q373.82,385.53 371.86,384.19 Q369.91,382.84 369.60,380.93 Q369.30,379.02 371.43,377.61 Q373.56,376.19 376.51,376.00 Q379.46,375.81 381.93,376.73 Q384.40,377.64 385.85,379.32 Z" fill="#d8d4a4" stroke="#a08452" stroke-width="1.1"/><ellipse cx="377.95" cy="381.50" rx="6.45" ry="4.03" fill="#ece6bc" opacity="0.45"/><path d="M382.24,380.43 Q383.27,382.00 382.47,383.78 Q381.66,385.57 379.78,386.12 Q377.90,386.67 376.29,385.87 Q374.67,385.07 373.89,383.53 Q373.12,382.00 373.57,380.16 Q374.02,378.31 375.96,377.94 Q377.90,377.58 379.56,378.21 Q381.21,378.85 382.24,380.43 Z" fill="#4444c0" stroke="#1a1a88" stroke-width="0.7"/></g>
<g filter="url(#bl1)"><path d="M427.11,343.46 Q427.76,345.30 427.03,347.08 Q426.30,348.87 424.33,349.80 Q422.35,350.73 420.09,350.45 Q417.82,350.17 416.35,348.69 Q414.88,347.22 414.81,345.28 Q414.73,343.34 416.22,341.80 Q417.71,340.26 420.04,340.01 Q422.37,339.76 424.42,340.69 Q426.47,341.62 427.11,343.46 Z" fill="#b08030" stroke="#a08452" stroke-width="1.1"/><ellipse cx="421.20" cy="345.30" rx="4.84" ry="4.03" fill="#ece6bc" opacity="0.45"/></g>
<circle cx="428" cy="331.5" r="5" fill="#2a1810" filter="url(#bl1)"/>
<circle cx="354.4" cy="376.5" r="5" fill="#101040" filter="url(#bl1)"/>
<circle cx="363.2" cy="379.2" r="4" fill="#14144a" filter="url(#bl1)"/>
<circle cx="427.5" cy="333" r="3" fill="#402010" filter="url(#bl1)"/>
</g></g>
<rect x="312.2" y="269.7" width="134.60000000000002" height="114.10000000000002" fill="none" stroke="#111" stroke-width="1.6"/>
<text x="-0.46" y="431.50" font-size="24.6" font-weight="bold" text-anchor="start" fill="#000" textLength="16.06" lengthAdjust="spacingAndGlyphs">E</text>
<text x="24.80" y="445.60" font-size="11.2" font-weight="bold" text-anchor="start" fill="#111" textLength="42.26" lengthAdjust="spacingAndGlyphs">control</text>
<text x="24.73" y="681.40" font-size="11.8" font-weight="bold" text-anchor="start" fill="#111" textLength="81.58" lengthAdjust="spacingAndGlyphs">human serum</text>
<line x1="46.10" y1="466.20" x2="46.10" y2="604.80" stroke="#b8b8b8" stroke-width="0.9" stroke-dasharray="2.2,2.2"/>
<line x1="68.50" y1="466.20" x2="68.50" y2="604.80" stroke="#b8b8b8" stroke-width="0.9" stroke-dasharray="2.2,2.2"/>
<line x1="93.70" y1="466.20" x2="93.70" y2="604.80" stroke="#b8b8b8" stroke-width="0.9" stroke-dasharray="2.2,2.2"/>
<polyline points="22.40,521.64 29.81,522.27 36.16,519.52 42.50,518.04 48.85,517.62 54.14,516.35 58.37,513.18 61.54,509.58 64.71,507.46 66.83,505.77 68.31,497.31 69.58,484.62 71.06,476.16 73.18,471.92 75.29,470.23 77.41,471.92 79.52,476.16 81.64,482.50 83.75,488.85 85.23,497.31 86.93,505.77 90.10,512.12 93.27,518.47 96.45,522.70 99.62,523.75 103.85,525.45 108.08,527.98 112.31,529.04 117.18,529.04" fill="none" stroke="#111" stroke-width="1.35" stroke-linejoin="round"/>
<polyline points="22.40,535.23 27.69,533.75 31.92,531.64 35.10,527.40 38.27,523.17 42.50,521.06 45.67,521.69 49.91,523.81 54.14,526.35 57.31,528.46 63.66,531.00 68.95,533.12 74.23,536.50 78.47,540.10 82.70,543.69 87.98,547.50 93.27,551.73 97.50,553.85 103.85,554.91 110.20,555.96 117.18,556.39" fill="none" stroke="#111" stroke-width="1.35" stroke-linejoin="round"/>
<polyline points="22.40,542.21 26.64,540.10 30.87,536.92 33.62,535.23 36.16,537.98 40.39,538.62 44.62,540.10 48.85,541.16 52.02,542.21 55.19,544.96 58.37,548.56 61.54,551.73 64.71,555.96 66.83,559.14 70.00,562.31 73.18,566.54 76.35,571.83 78.47,573.95 82.70,572.89 87.98,573.95 93.27,575.43 99.62,576.70 105.97,577.54 112.31,578.18 117.18,578.81" fill="none" stroke="#111" stroke-width="1.35" stroke-linejoin="round"/>
<polyline points="22.40,561.89 24.52,559.14 26.64,558.08 29.81,559.14 32.98,561.25 36.16,564.43 39.33,567.60 42.50,570.35 45.67,573.95 48.85,576.06 53.08,576.06 56.25,578.18 59.43,581.35 62.60,583.47 65.77,586.64 70.00,588.75 74.23,590.87 78.47,592.35 82.70,594.04 87.98,595.74 93.27,597.22 99.62,598.27 105.97,598.70 112.31,599.33 117.18,600.39" fill="none" stroke="#111" stroke-width="1.35" stroke-linejoin="round"/>
<line x1="75.30" y1="535.40" x2="117.20" y2="535.40" stroke="#1a1a1a" stroke-width="1.5"/>
<line x1="66.80" y1="559.30" x2="117.20" y2="559.30" stroke="#1a1a1a" stroke-width="1.5"/>
<line x1="60.00" y1="582.00" x2="117.20" y2="582.00" stroke="#1a1a1a" stroke-width="1.5"/>
<rect x="22.4" y="465.2" width="94.80000000000001" height="139.59999999999997" fill="none" stroke="#1a1a1a" stroke-width="1.5"/>
<line x1="22.40" y1="604.80" x2="22.40" y2="609.80" stroke="#1a1a1a" stroke-width="1.4"/>
<line x1="46.10" y1="604.80" x2="46.10" y2="609.80" stroke="#1a1a1a" stroke-width="1.4"/>
<line x1="68.50" y1="604.80" x2="68.50" y2="609.80" stroke="#1a1a1a" stroke-width="1.4"/>
<line x1="93.70" y1="604.80" x2="93.70" y2="609.80" stroke="#1a1a1a" stroke-width="1.4"/>
<line x1="117.20" y1="604.80" x2="117.20" y2="609.80" stroke="#1a1a1a" stroke-width="1.4"/>
<text x="22.00" y="622.40" font-size="10.6" font-weight="bold" text-anchor="middle" fill="#111" textLength="6.60" lengthAdjust="spacingAndGlyphs">5</text>
<text x="45.60" y="622.40" font-size="10.6" font-weight="bold" text-anchor="middle" fill="#111" textLength="6.60" lengthAdjust="spacingAndGlyphs">7</text>
<text x="68.70" y="622.40" font-size="10.6" font-weight="bold" text-anchor="middle" fill="#111" textLength="13.21" lengthAdjust="spacingAndGlyphs">10</text>
<text x="93.80" y="622.40" font-size="10.6" font-weight="bold" text-anchor="middle" fill="#111" textLength="13.21" lengthAdjust="spacingAndGlyphs">13</text>
<text x="117.00" y="622.40" font-size="10.6" font-weight="bold" text-anchor="middle" fill="#111" textLength="13.21" lengthAdjust="spacingAndGlyphs">15</text>
<text x="36.50" y="638.40" font-size="12.0" font-weight="bold" text-anchor="start" fill="#111" textLength="82.60" lengthAdjust="spacingAndGlyphs">diameter (&#956;m)</text>
<text x="119.91" y="531.20" font-size="11.0" font-weight="bold" text-anchor="start" fill="#111" textLength="31.51" lengthAdjust="spacingAndGlyphs">day 0</text>
<text x="119.91" y="554.30" font-size="11.0" font-weight="bold" text-anchor="start" fill="#111" textLength="31.51" lengthAdjust="spacingAndGlyphs">day 2</text>
<text x="119.91" y="577.00" font-size="11.0" font-weight="bold" text-anchor="start" fill="#111" textLength="31.07" lengthAdjust="spacingAndGlyphs">day 4</text>
<text x="119.91" y="600.10" font-size="11.0" font-weight="bold" text-anchor="start" fill="#111" textLength="31.45" lengthAdjust="spacingAndGlyphs">day 6</text>
<line x1="15.60" y1="532.70" x2="15.60" y2="468.00" stroke="#111" stroke-width="1.5"/>
<path d="M15.6,463.2 L13.1,469 L18.1,469 Z" fill="#111"/>
<text x="9.30" y="535.83" font-size="10.0" font-weight="bold" fill="#111" textLength="74.60" lengthAdjust="spacingAndGlyphs" transform="rotate(-90 9.30 535.83)">cell number</text>
<line x1="46.10" y1="699.50" x2="46.10" y2="838.50" stroke="#cacae6" stroke-width="0.9" stroke-dasharray="2.2,2.2"/>
<line x1="68.50" y1="699.50" x2="68.50" y2="838.50" stroke="#cacae6" stroke-width="0.9" stroke-dasharray="2.2,2.2"/>
<line x1="93.70" y1="699.50" x2="93.70" y2="838.50" stroke="#cacae6" stroke-width="0.9" stroke-dasharray="2.2,2.2"/>
<polyline points="23.08,753.85 30.77,754.46 38.46,753.85 46.15,753.23 52.31,750.77 58.46,747.69 63.08,744.62 66.15,738.46 69.23,726.15 71.38,710.77 73.85,706.15 76.92,704.62 80.00,707.69 82.46,713.85 84.62,723.08 86.15,732.31 89.23,741.54 92.31,749.23 96.92,755.38 101.54,757.54 106.15,759.38 110.77,761.54 116.92,762.46" fill="none" stroke="#efd240" stroke-width="1.35" stroke-linejoin="round"/>
<polyline points="23.08,768.62 29.23,767.69 36.92,764.62 43.08,761.54 47.69,756.92 52.31,752.31 56.92,746.15 60.00,743.08 64.62,743.08 69.23,744.62 72.31,749.23 75.38,753.85 78.46,756.92 81.54,760.62 85.54,764.62 89.23,770.77 95.38,776.92 101.54,781.54 107.69,784.62 113.85,786.15 116.92,787.08" fill="none" stroke="#d8963c" stroke-width="1.35" stroke-linejoin="round"/>
<polyline points="23.08,792.31 29.23,792.31 33.85,786.15 38.46,778.46 43.08,770.77 47.69,766.15 52.31,765.54 55.38,767.69 58.46,772.31 63.08,778.46 67.69,783.08 72.31,787.69 75.38,793.85 78.46,801.54 83.08,806.15 92.31,807.69 101.54,808.62 110.77,809.23 116.92,809.85" fill="none" stroke="#e05a3c" stroke-width="1.35" stroke-linejoin="round"/>
<polyline points="23.08,813.85 30.77,812.31 36.92,809.23 41.54,802.46 45.54,796.92 49.23,798.46 53.85,803.08 60.00,807.69 66.15,810.77 70.77,815.38 73.85,821.54 78.46,824.62 84.62,827.08 92.31,828.31 101.54,830.15 110.77,832.31 116.92,834.46" fill="none" stroke="#d42a44" stroke-width="1.35" stroke-linejoin="round"/>
<line x1="85.50" y1="769.20" x2="117.20" y2="769.20" stroke="#1a1a1a" stroke-width="1.5"/>
<line x1="73.80" y1="793.00" x2="117.20" y2="793.00" stroke="#1a1a1a" stroke-width="1.5"/>
<line x1="69.20" y1="815.00" x2="117.20" y2="815.00" stroke="#1a1a1a" stroke-width="1.5"/>
<line x1="22.40" y1="769.20" x2="29.00" y2="769.20" stroke="#1a1a1a" stroke-width="1.5"/>
<line x1="22.40" y1="792.90" x2="29.00" y2="792.90" stroke="#1a1a1a" stroke-width="1.5"/>
<rect x="22.4" y="698.5" width="94.80000000000001" height="140.0" fill="none" stroke="#1a1a1a" stroke-width="1.5"/>
<line x1="22.40" y1="838.50" x2="22.40" y2="843.50" stroke="#1a1a1a" stroke-width="1.4"/>
<line x1="46.10" y1="838.50" x2="46.10" y2="843.50" stroke="#1a1a1a" stroke-width="1.4"/>
<line x1="68.50" y1="838.50" x2="68.50" y2="843.50" stroke="#1a1a1a" stroke-width="1.4"/>
<line x1="93.70" y1="838.50" x2="93.70" y2="843.50" stroke="#1a1a1a" stroke-width="1.4"/>
<line x1="117.20" y1="838.50" x2="117.20" y2="843.50" stroke="#1a1a1a" stroke-width="1.4"/>
<text x="22.00" y="855.80" font-size="10.6" font-weight="bold" text-anchor="middle" fill="#111" textLength="6.60" lengthAdjust="spacingAndGlyphs">5</text>
<text x="45.60" y="855.80" font-size="10.6" font-weight="bold" text-anchor="middle" fill="#111" textLength="6.60" lengthAdjust="spacingAndGlyphs">7</text>
<text x="68.70" y="855.80" font-size="10.6" font-weight="bold" text-anchor="middle" fill="#111" textLength="13.21" lengthAdjust="spacingAndGlyphs">10</text>
<text x="93.80" y="855.80" font-size="10.6" font-weight="bold" text-anchor="middle" fill="#111" textLength="13.21" lengthAdjust="spacingAndGlyphs">13</text>
<text x="117.00" y="855.80" font-size="10.6" font-weight="bold" text-anchor="middle" fill="#111" textLength="13.21" lengthAdjust="spacingAndGlyphs">15</text>
<text x="36.50" y="869.90" font-size="12.0" font-weight="bold" text-anchor="start" fill="#111" textLength="82.60" lengthAdjust="spacingAndGlyphs">diameter (&#956;m)</text>
<text x="119.91" y="764.40" font-size="11.0" font-weight="bold" text-anchor="start" fill="#111" textLength="31.51" lengthAdjust="spacingAndGlyphs">day 0</text>
<text x="119.91" y="788.20" font-size="11.0" font-weight="bold" text-anchor="start" fill="#111" textLength="31.51" lengthAdjust="spacingAndGlyphs">day 2</text>
<text x="119.91" y="810.40" font-size="11.0" font-weight="bold" text-anchor="start" fill="#111" textLength="31.07" lengthAdjust="spacingAndGlyphs">day 4</text>
<text x="119.91" y="833.30" font-size="11.0" font-weight="bold" text-anchor="start" fill="#111" textLength="31.45" lengthAdjust="spacingAndGlyphs">day 6</text>
<line x1="17.10" y1="766.20" x2="17.10" y2="701.50" stroke="#111" stroke-width="1.5"/>
<path d="M17.1,696.6 L14.6,702.6 L19.6,702.6 Z" fill="#111"/>
<text x="10.30" y="768.73" font-size="10.0" font-weight="bold" fill="#111" textLength="74.10" lengthAdjust="spacingAndGlyphs" transform="rotate(-90 10.30 768.73)">cell number</text>
<text x="204.36" y="432.20" font-size="24.9" font-weight="bold" text-anchor="start" fill="#000" textLength="13.53" lengthAdjust="spacingAndGlyphs">F</text>
<text x="217.40" y="452.80" font-size="11.6" font-weight="bold" text-anchor="start" fill="#111" textLength="42.05" lengthAdjust="spacingAndGlyphs">control</text>
<text x="379.52" y="453.20" font-size="11.6" font-weight="bold" text-anchor="start" fill="#111" textLength="82.30" lengthAdjust="spacingAndGlyphs">human serum</text>
<path d="M220.77,563.70 L220.77,562.01 L221.38,559.40 L221.98,557.21 L222.59,554.09 L223.20,552.90 L223.80,550.57 L224.41,547.77 L225.02,543.96 L225.62,542.58 L226.23,539.51 L226.84,536.76 L227.44,536.97 L228.05,533.79 L228.66,525.99 L229.26,526.20 L229.87,521.33 L230.48,517.05 L231.09,514.02 L231.69,513.92 L232.30,510.16 L232.91,509.26 L233.51,507.91 L234.12,503.12 L234.73,506.26 L235.33,506.59 L235.94,505.68 L236.55,502.54 L237.15,497.81 L237.76,496.89 L238.37,497.21 L238.97,502.58 L239.58,497.22 L240.19,497.08 L240.79,500.52 L241.40,495.00 L242.01,495.61 L242.61,493.50 L243.22,489.28 L243.83,492.45 L244.43,493.99 L245.04,487.84 L245.65,490.27 L246.25,493.64 L246.86,493.10 L247.47,499.07 L248.07,504.55 L248.68,506.99 L249.29,510.27 L249.89,516.99 L250.50,517.40 L251.11,522.08 L251.72,523.54 L252.32,527.06 L252.93,527.28 L253.54,532.60 L254.14,532.26 L254.75,535.05 L255.36,539.80 L255.96,542.61 L256.57,543.37 L257.18,545.77 L257.78,547.79 L258.39,550.34 L259.00,553.00 L259.60,553.96 L260.21,555.74 L260.82,558.15 L261.42,559.16 L262.03,560.74 L262.64,561.85 L263.24,562.68 L263.85,563.26 L263.85,563.70 Z" fill="#d2d6e0"/>
<polyline points="219.42,553.67 219.92,553.92 220.42,555.19 220.92,553.22 221.42,553.22 221.92,553.37 222.42,551.58 222.93,552.73 223.43,553.05 223.93,553.55 224.43,550.48 224.93,551.17 225.43,550.09 225.93,552.96 226.43,552.30 226.93,549.32 227.43,553.21 227.93,552.97 228.43,551.45 228.93,551.12 229.43,549.01 229.93,548.30 230.43,550.51 230.93,548.34 231.43,548.84 231.93,549.00 232.43,547.96 232.93,549.85 233.43,549.66 233.93,551.42 234.43,549.87 234.93,550.35 235.43,549.63 235.93,550.31 236.43,549.29 236.93,548.38 237.43,551.64 237.93,551.57 238.43,550.77 238.93,550.08 239.43,548.17 239.93,547.62 240.43,547.72 240.93,546.49 241.43,549.65 241.93,547.71 242.43,549.71 242.93,547.29 243.43,549.93 243.93,549.22 244.43,544.83 244.93,545.69 245.43,548.65 245.93,545.72 246.43,547.78 246.93,543.99 247.43,541.50 247.93,543.95 248.44,544.16 248.94,540.52 249.44,538.44 249.94,538.90 250.44,541.92 250.94,539.64 251.44,534.37 251.94,534.19 252.44,532.12 252.94,530.75 253.44,535.15 253.94,529.50 254.44,531.41 254.94,529.53 255.44,526.44 255.94,529.86 256.44,523.83 256.94,527.18 257.44,521.23 257.94,522.40 258.44,518.94 258.94,517.91 259.44,523.27 259.94,520.19 260.44,513.59 260.94,518.21 261.44,509.47 261.94,509.94 262.44,513.65 262.94,509.98 263.44,502.36 263.94,511.72 264.44,501.07 264.94,500.32 265.44,505.54 265.94,498.63 266.44,496.91 266.94,492.65 267.44,491.54 267.94,497.05 268.44,491.86 268.94,496.32 269.44,492.62 269.94,493.25 270.44,499.91 270.94,493.59 271.44,495.61 271.94,500.38 272.44,491.72 272.94,492.12 273.44,503.14 273.95,502.87 274.45,496.37 274.95,496.65 275.45,504.71 275.95,508.19 276.45,500.23 276.95,510.77 277.45,511.19 277.95,509.18 278.45,508.41 278.95,506.20 279.45,506.91 279.95,518.29 280.45,511.81 280.95,517.94 281.45,514.61 281.95,521.53 282.45,520.51 282.95,518.86 283.45,519.06 283.95,525.32 284.45,520.76 284.95,523.48 285.45,527.58 285.95,531.22 286.45,530.49 286.95,529.12 287.45,535.24 287.95,531.15 288.45,531.12 288.95,534.23 289.45,536.71 289.95,535.47 290.45,537.54 290.95,539.94 291.45,542.17 291.95,540.62 292.45,542.97 292.95,546.86 293.45,548.27 293.95,547.54 294.45,548.68 294.95,549.15 295.45,548.10 295.95,548.70 296.45,549.55 296.95,554.04 297.45,553.91 297.95,555.64 298.45,552.81 298.95,555.84 299.45,556.04 299.96,557.63 300.46,557.02 300.96,559.91 301.46,557.84 301.96,559.62 302.46,560.46 302.96,561.21 303.46,561.04 303.96,561.24 304.46,561.77 304.96,562.37 305.46,561.21 305.96,562.35 306.46,563.17 306.96,563.36 307.46,562.31 307.96,563.23 308.46,563.44 308.96,562.78 309.46,562.94 309.96,562.39 310.46,562.90 310.96,562.99 311.46,561.78 311.96,563.13 312.46,563.70 312.96,563.70 313.46,563.44 313.96,562.68 314.46,563.52 314.96,563.19 315.46,562.90 315.96,563.70 316.46,562.15 316.96,563.70 317.46,562.09 317.96,563.44 318.46,563.19 318.96,562.66 319.46,563.70 319.96,563.33 320.46,563.63 320.96,563.70 321.46,562.89 321.96,562.38 322.46,563.06 322.96,563.70 323.46,562.89 323.96,562.84 324.46,563.70 324.96,563.70 325.47,563.48 325.97,563.70 326.47,563.26 326.97,563.70 327.47,563.00 327.97,563.53 328.47,563.70 328.97,563.70 329.47,563.70 329.97,563.48 330.47,563.70 330.97,563.36 331.47,562.98 331.97,563.70 332.47,563.70 332.97,563.70 333.47,563.70 333.97,563.70 334.47,563.37 334.97,563.15 335.47,563.70 335.97,563.41 336.47,563.29 336.97,563.70 337.47,563.70 337.97,563.70 338.47,563.57 338.97,563.70 339.47,563.70 339.97,563.70 340.47,563.09 340.97,563.01 341.47,563.70 341.97,563.06 342.47,563.70" fill="none" stroke="#f2b45c" stroke-width="0.9" stroke-linejoin="round"/>
<polyline points="219.42,553.75 219.92,554.30 220.42,554.17 220.92,551.94 221.42,551.24 221.92,552.52 222.42,551.94 222.93,553.95 223.43,553.30 223.93,552.81 224.43,552.51 224.93,552.81 225.43,550.53 225.93,551.64 226.43,550.34 226.93,553.37 227.43,549.63 227.93,552.76 228.43,549.43 228.93,551.96 229.43,550.39 229.93,550.64 230.43,552.49 230.93,548.85 231.43,548.98 231.93,552.67 232.43,550.84 232.93,548.95 233.43,552.85 233.93,552.63 234.43,548.88 234.93,550.18 235.43,548.82 235.93,549.53 236.43,550.84 236.93,548.71 237.43,551.03 237.93,548.04 238.43,548.50 238.93,551.35 239.43,549.39 239.93,549.36 240.43,550.05 240.93,549.38 241.43,548.83 241.93,547.05 242.43,550.17 242.93,551.18 243.43,551.11 243.93,549.51 244.43,547.93 244.93,547.83 245.43,548.82 245.93,548.10 246.43,544.58 246.93,544.51 247.43,544.50 247.93,544.62 248.44,545.62 248.94,543.22 249.44,539.54 249.94,543.23 250.44,539.86 250.94,539.41 251.44,536.48 251.94,536.81 252.44,535.53 252.94,537.20 253.44,531.43 253.94,533.66 254.44,529.86 254.94,532.80 255.44,526.64 255.94,527.49 256.44,527.01 256.94,528.44 257.44,522.11 257.94,524.11 258.44,520.31 258.94,519.42 259.44,519.74 259.94,523.00 260.44,516.77 260.94,520.21 261.44,510.42 261.94,517.09 262.44,509.45 262.94,505.91 263.44,510.86 263.94,511.38 264.44,498.95 264.94,500.58 265.44,505.40 265.94,498.41 266.44,495.55 266.94,490.84 267.44,489.65 267.94,496.20 268.44,500.60 268.94,500.12 269.44,492.34 269.94,484.65 270.44,488.19 270.94,495.03 271.44,496.02 271.94,493.57 272.44,488.01 272.94,494.10 273.44,495.28 273.95,499.18 274.45,496.23 274.95,507.02 275.45,508.22 275.95,501.21 276.45,504.85 276.95,513.58 277.45,508.84 277.95,518.09 278.45,515.47 278.95,519.29 279.45,521.31 279.95,518.62 280.45,521.36 280.95,523.17 281.45,528.85 281.95,530.88 282.45,528.48 282.95,536.16 283.45,534.76 283.95,535.59 284.45,538.91 284.95,544.20 285.45,543.66 285.95,545.98 286.45,549.41 286.95,551.47 287.45,552.44 287.95,553.00 288.45,554.92 288.95,557.02 289.45,557.58 289.95,557.85 290.45,558.12 290.95,558.89 291.45,560.10 291.95,559.72 292.45,558.26 292.95,560.38 293.45,561.06 293.95,560.87 294.45,561.27 294.95,561.42 295.45,560.50 295.95,561.32 296.45,560.31 296.95,559.63 297.45,560.40 297.95,560.38 298.45,562.12 298.95,561.55 299.45,561.24 299.96,561.54 300.46,560.32 300.96,561.47 301.46,561.98 301.96,561.28 302.46,560.98 302.96,561.48 303.46,561.36 303.96,562.35 304.46,561.06 304.96,560.98 305.46,561.59 305.96,562.59 306.46,562.79 306.96,562.59 307.46,563.32 307.96,561.97 308.46,561.21 308.96,562.37 309.46,562.32 309.96,561.73 310.46,562.95 310.96,562.22 311.46,562.03 311.96,562.29 312.46,563.70 312.96,561.64 313.46,562.53 313.96,562.39 314.46,562.26 314.96,562.85 315.46,562.41 315.96,563.70 316.46,563.16 316.96,563.66 317.46,562.48 317.96,563.21 318.46,563.54 318.96,563.70 319.46,562.77 319.96,563.26 320.46,563.70 320.96,563.70 321.46,562.79 321.96,563.50 322.46,563.70 322.96,563.21 323.46,563.70 323.96,563.70 324.46,563.70 324.96,563.63 325.47,563.70 325.97,563.21 326.47,563.70 326.97,563.18 327.47,563.60 327.97,563.30 328.47,563.20 328.97,562.84 329.47,563.06 329.97,563.70 330.47,563.15 330.97,562.71 331.47,563.70 331.97,563.27 332.47,563.70 332.97,563.70 333.47,563.55 333.97,563.70 334.47,563.70 334.97,563.45 335.47,563.03 335.97,563.70 336.47,563.70 336.97,563.70 337.47,563.70 337.97,563.70 338.47,563.70 338.97,563.45 339.47,563.70 339.97,563.70 340.47,563.70 340.97,563.70 341.47,563.70 341.97,563.34 342.47,563.44" fill="none" stroke="#d6284a" stroke-width="1.05" stroke-linejoin="round"/>
<line x1="218.60" y1="470.40" x2="218.60" y2="564.30" stroke="#1a1a1a" stroke-width="1.5"/>
<line x1="218.60" y1="564.30" x2="343.30" y2="564.30" stroke="#1a1a1a" stroke-width="1.5"/>
<line x1="218.60" y1="564.30" x2="218.60" y2="568.30" stroke="#1a1a1a" stroke-width="1.3"/>
<line x1="249.78" y1="564.30" x2="249.78" y2="568.30" stroke="#1a1a1a" stroke-width="1.3"/>
<line x1="280.95" y1="564.30" x2="280.95" y2="568.30" stroke="#1a1a1a" stroke-width="1.3"/>
<line x1="312.12" y1="564.30" x2="312.12" y2="568.30" stroke="#1a1a1a" stroke-width="1.3"/>
<line x1="343.30" y1="564.30" x2="343.30" y2="568.30" stroke="#1a1a1a" stroke-width="1.3"/>
<text x="223.14" y="583.60" font-size="12.4" font-weight="bold" text-anchor="end" fill="#111" textLength="14.10" lengthAdjust="spacingAndGlyphs">10</text>
<text x="223.98" y="576.30" font-size="9.0" font-weight="bold" text-anchor="start" fill="#111" textLength="5.85" lengthAdjust="spacingAndGlyphs">0</text>
<text x="284.89" y="583.60" font-size="12.4" font-weight="bold" text-anchor="end" fill="#111" textLength="14.10" lengthAdjust="spacingAndGlyphs">10</text>
<text x="287.79" y="576.30" font-size="9.0" font-weight="bold" text-anchor="start" fill="#111" textLength="5.79" lengthAdjust="spacingAndGlyphs">2</text>
<text x="345.74" y="583.60" font-size="12.4" font-weight="bold" text-anchor="end" fill="#111" textLength="14.10" lengthAdjust="spacingAndGlyphs">10</text>
<text x="347.96" y="576.30" font-size="9.0" font-weight="bold" text-anchor="start" fill="#111" textLength="5.20" lengthAdjust="spacingAndGlyphs">4</text>
<text x="214.80" y="540.90" font-size="10.8" font-weight="bold" fill="#111" textLength="40.83" lengthAdjust="spacingAndGlyphs" transform="rotate(-90 214.80 540.90)">counts</text>
<text x="298.71" y="482.90" font-size="11.8" font-weight="bold" text-anchor="start" fill="#111" textLength="27.14" lengthAdjust="spacingAndGlyphs">c-Kit</text>
<path d="M384.62,564.90 L384.62,560.60 L385.22,556.73 L385.82,553.37 L386.42,550.21 L387.02,544.85 L387.63,542.39 L388.23,539.81 L388.83,536.21 L389.43,531.42 L390.03,525.92 L390.64,523.43 L391.24,523.41 L391.84,515.46 L392.44,513.63 L393.04,514.55 L393.65,508.36 L394.25,504.50 L394.85,503.40 L395.45,505.82 L396.05,499.86 L396.66,498.71 L397.26,498.94 L397.86,499.44 L398.46,496.09 L399.06,491.92 L399.67,494.94 L400.27,489.94 L400.87,490.11 L401.47,490.58 L402.07,494.40 L402.68,490.72 L403.28,493.68 L403.88,488.70 L404.48,487.69 L405.08,486.27 L405.69,491.45 L406.29,492.44 L406.89,487.59 L407.49,488.36 L408.09,487.09 L408.70,492.98 L409.30,490.93 L409.90,492.08 L410.50,498.53 L411.10,500.55 L411.71,501.82 L412.31,502.18 L412.91,509.15 L413.51,512.19 L414.11,515.05 L414.72,517.19 L415.32,524.92 L415.92,527.54 L416.52,529.64 L417.12,533.91 L417.73,535.10 L418.33,537.22 L418.93,539.01 L419.53,543.09 L420.13,545.21 L420.74,547.38 L421.34,551.19 L421.94,552.75 L422.54,552.97 L423.14,556.33 L423.75,556.52 L424.35,559.44 L424.95,560.75 L425.55,563.09 L426.15,564.90 L426.15,564.90 Z" fill="#d2d6e0"/>
<polyline points="383.08,552.48 383.58,554.43 384.08,554.01 384.58,553.16 385.08,551.85 385.58,554.09 386.08,553.96 386.58,552.50 387.08,552.27 387.58,550.89 388.08,549.65 388.58,551.07 389.08,551.83 389.58,549.30 390.08,552.38 390.58,549.62 391.08,549.54 391.58,548.66 392.08,553.06 392.58,551.87 393.08,552.50 393.58,551.30 394.08,548.62 394.58,549.98 395.08,550.76 395.58,549.00 396.09,552.85 396.59,550.16 397.09,549.18 397.59,552.23 398.09,549.04 398.59,552.74 399.09,550.55 399.59,551.01 400.09,550.02 400.59,550.55 401.09,549.04 401.59,548.21 402.09,551.96 402.59,548.87 403.09,551.32 403.59,548.49 404.09,551.99 404.59,551.51 405.09,550.72 405.59,550.64 406.09,549.64 406.59,550.03 407.09,546.65 407.59,548.03 408.09,549.45 408.59,545.85 409.09,549.24 409.59,548.71 410.09,545.79 410.59,545.17 411.09,545.26 411.59,544.52 412.10,547.56 412.60,543.58 413.10,540.81 413.60,540.48 414.10,543.55 414.60,544.60 415.10,540.87 415.60,540.18 416.10,539.89 416.60,540.54 417.10,536.23 417.60,537.86 418.10,536.51 418.60,536.00 419.10,531.73 419.60,530.60 420.10,530.93 420.60,534.50 421.10,528.86 421.60,529.85 422.10,525.89 422.60,522.55 423.10,520.60 423.60,525.96 424.10,524.19 424.60,518.81 425.10,520.39 425.60,518.85 426.10,519.76 426.60,519.00 427.10,511.50 427.60,516.59 428.11,514.89 428.61,509.10 429.11,511.17 429.61,504.92 430.11,501.96 430.61,498.77 431.11,505.63 431.61,494.94 432.11,492.36 432.61,501.14 433.11,499.52 433.61,494.20 434.11,498.91 434.61,488.27 435.11,491.71 435.61,493.37 436.11,497.20 436.61,495.95 437.11,496.76 437.61,502.27 438.11,511.15 438.61,514.15 439.11,513.74 439.61,513.22 440.11,513.34 440.61,523.08 441.11,521.20 441.61,525.57 442.11,521.79 442.61,526.04 443.11,533.65 443.61,535.69 444.12,538.68 444.62,539.14 445.12,539.99 445.62,542.95 446.12,546.45 446.62,545.44 447.12,548.64 447.62,549.43 448.12,552.82 448.62,550.52 449.12,554.38 449.62,556.41 450.12,553.82 450.62,556.96 451.12,557.66 451.62,558.71 452.12,558.11 452.62,557.34 453.12,558.18 453.62,560.31 454.12,560.45 454.62,558.35 455.12,558.58 455.62,558.84 456.12,558.77 456.62,560.17 457.12,559.40 457.62,561.67 458.12,561.18 458.62,559.79 459.12,561.11 459.62,560.63 460.13,561.25 460.63,560.61 461.13,560.61 461.63,560.80 462.13,561.46 462.63,562.50 463.13,562.20 463.63,560.99 464.13,562.89 464.63,563.44 465.13,563.19 465.63,563.25 466.13,561.22 466.63,562.43 467.13,561.40 467.63,563.24 468.13,561.72 468.63,563.13 469.13,561.95 469.63,563.12 470.13,562.14 470.63,561.46 471.13,562.37 471.63,562.18 472.13,563.72 472.63,562.17 473.13,562.72 473.63,562.86 474.13,563.89 474.63,561.73 475.13,563.03 475.63,562.81 476.14,563.40 476.64,564.01 477.14,562.35 477.64,563.36 478.14,562.93 478.64,563.03 479.14,561.78 479.64,563.71 480.14,564.13 480.64,562.57 481.14,562.49 481.64,564.21 482.14,561.99 482.64,561.93 483.14,561.93 483.64,563.82 484.14,563.69 484.64,562.92 485.14,563.37 485.64,561.88 486.14,563.46 486.64,562.97 487.14,563.17 487.64,562.87 488.14,562.91 488.64,562.49 489.14,562.06 489.64,563.04 490.14,562.59 490.64,563.74 491.14,564.03 491.64,563.82 492.15,563.17 492.65,562.64 493.15,563.02 493.65,563.29 494.15,563.66 494.65,564.49 495.15,562.35 495.65,563.33 496.15,563.38 496.65,563.94 497.15,564.38 497.65,564.12 498.15,563.77 498.65,564.10 499.15,563.89 499.65,564.37 500.15,564.00 500.65,563.97 501.15,562.93 501.65,564.57 502.15,563.30 502.65,563.87 503.15,564.39 503.65,564.74 504.15,564.81 504.65,562.46 505.15,563.21 505.65,563.22 506.15,563.43" fill="none" stroke="#f2b45c" stroke-width="0.9" stroke-linejoin="round"/>
<polyline points="383.08,564.23 383.58,561.82 384.08,561.16 384.58,563.41 385.08,560.88 385.58,560.35 386.08,561.51 386.58,560.29 387.08,561.56 387.58,559.26 388.08,560.68 388.58,557.62 389.08,557.58 389.58,557.81 390.08,555.93 390.58,555.92 391.08,553.49 391.58,548.50 392.08,550.49 392.58,547.07 393.08,543.52 393.58,540.73 394.08,542.80 394.58,539.14 395.08,539.66 395.58,536.60 396.09,536.13 396.59,531.11 397.09,530.24 397.59,527.56 398.09,522.39 398.59,526.87 399.09,518.75 399.59,521.41 400.09,521.31 400.59,516.19 401.09,508.60 401.59,514.29 402.09,510.54 402.59,502.75 403.09,498.98 403.59,503.99 404.09,496.61 404.59,507.10 405.09,500.67 405.59,499.82 406.09,497.37 406.59,500.00 407.09,502.77 407.59,493.63 408.09,493.79 408.59,495.97 409.09,491.17 409.59,495.57 410.09,495.32 410.59,494.27 411.09,499.39 411.59,499.89 412.10,496.70 412.60,510.70 413.10,505.28 413.60,508.73 414.10,511.19 414.60,519.84 415.10,522.85 415.60,521.39 416.10,523.37 416.60,523.81 417.10,533.32 417.60,530.08 418.10,535.45 418.60,536.58 419.10,539.01 419.60,541.76 420.10,543.29 420.60,544.59 421.10,549.19 421.60,552.37 422.10,553.64 422.60,553.86 423.10,557.65 423.60,556.18 424.10,558.17 424.60,560.25 425.10,561.24 425.60,560.60 426.10,562.43 426.60,561.59 427.10,561.72 427.60,561.94 428.11,563.11 428.61,562.50 429.11,561.82 429.61,562.57 430.11,562.40 430.61,561.68 431.11,562.89 431.61,563.04 432.11,562.54 432.61,563.48 433.11,561.11 433.61,562.43 434.11,562.76 434.61,561.89 435.11,561.34 435.61,562.62 436.11,561.83 436.61,561.28 437.11,560.56 437.61,562.99 438.11,561.20 438.61,560.45 439.11,560.62 439.61,560.62 440.11,562.24 440.61,560.20 441.11,560.37 441.61,559.75 442.11,560.72 442.61,559.86 443.11,560.15 443.61,561.20 444.12,561.67 444.62,561.30 445.12,558.82 445.62,559.74 446.12,561.07 446.62,558.48 447.12,558.90 447.62,559.68 448.12,559.24 448.62,560.29 449.12,560.09 449.62,559.41 450.12,558.92 450.62,559.05 451.12,559.34 451.62,558.92 452.12,560.89 452.62,559.57 453.12,561.88 453.62,561.34 454.12,559.83 454.62,561.27 455.12,561.74 455.62,560.31 456.12,561.62 456.62,560.46 457.12,562.55 457.62,560.57 458.12,562.35 458.62,563.38 459.12,563.09 459.62,561.54 460.13,562.42 460.63,561.47 461.13,562.08 461.63,563.52 462.13,563.48 462.63,561.49 463.13,562.52 463.63,563.27 464.13,562.18 464.63,563.84 465.13,564.07 465.63,563.22 466.13,562.75 466.63,563.98 467.13,563.15 467.63,562.34 468.13,562.57 468.63,562.28 469.13,563.99 469.63,563.18 470.13,563.65 470.63,563.96 471.13,564.35 471.63,562.41 472.13,562.95 472.63,564.13 473.13,563.85 473.63,562.93 474.13,563.61 474.63,562.47 475.13,562.39 475.63,562.12 476.14,562.95 476.64,562.60 477.14,563.31 477.64,564.43 478.14,562.42 478.64,563.43 479.14,564.19 479.64,563.54 480.14,563.37 480.64,563.98 481.14,562.14 481.64,564.44 482.14,563.80 482.64,564.10 483.14,564.15 483.64,562.37 484.14,562.30 484.64,562.58 485.14,563.39 485.64,564.47 486.14,564.40 486.64,563.19 487.14,563.71 487.64,564.01 488.14,563.01 488.64,564.59 489.14,564.52 489.64,564.00 490.14,564.44 490.64,564.20 491.14,563.84 491.64,563.04 492.15,562.95 492.65,562.85 493.15,562.42 493.65,564.54 494.15,563.02 494.65,562.36 495.15,563.08 495.65,562.57 496.15,563.41 496.65,563.14 497.15,562.77 497.65,563.51 498.15,563.37 498.65,563.23 499.15,564.35 499.65,563.13 500.15,563.70 500.65,564.53 501.15,564.73 501.65,563.32 502.15,562.52 502.65,564.73 503.15,563.68 503.65,562.97 504.15,562.77 504.65,563.04 505.15,563.22 505.65,562.82 506.15,562.61" fill="none" stroke="#d6284a" stroke-width="1.05" stroke-linejoin="round"/>
<line x1="381.50" y1="471.40" x2="381.50" y2="565.50" stroke="#1a1a1a" stroke-width="1.5"/>
<line x1="381.50" y1="565.50" x2="506.20" y2="565.50" stroke="#1a1a1a" stroke-width="1.5"/>
<line x1="381.50" y1="565.50" x2="381.50" y2="569.50" stroke="#1a1a1a" stroke-width="1.3"/>
<line x1="412.68" y1="565.50" x2="412.68" y2="569.50" stroke="#1a1a1a" stroke-width="1.3"/>
<line x1="443.85" y1="565.50" x2="443.85" y2="569.50" stroke="#1a1a1a" stroke-width="1.3"/>
<line x1="475.02" y1="565.50" x2="475.02" y2="569.50" stroke="#1a1a1a" stroke-width="1.3"/>
<line x1="506.20" y1="565.50" x2="506.20" y2="569.50" stroke="#1a1a1a" stroke-width="1.3"/>
<text x="386.04" y="584.80" font-size="12.4" font-weight="bold" text-anchor="end" fill="#111" textLength="14.10" lengthAdjust="spacingAndGlyphs">10</text>
<text x="386.88" y="577.50" font-size="9.0" font-weight="bold" text-anchor="start" fill="#111" textLength="5.85" lengthAdjust="spacingAndGlyphs">0</text>
<text x="447.79" y="584.80" font-size="12.4" font-weight="bold" text-anchor="end" fill="#111" textLength="14.10" lengthAdjust="spacingAndGlyphs">10</text>
<text x="450.69" y="577.50" font-size="9.0" font-weight="bold" text-anchor="start" fill="#111" textLength="5.79" lengthAdjust="spacingAndGlyphs">2</text>
<text x="508.64" y="584.80" font-size="12.4" font-weight="bold" text-anchor="end" fill="#111" textLength="14.10" lengthAdjust="spacingAndGlyphs">10</text>
<text x="510.86" y="577.50" font-size="9.0" font-weight="bold" text-anchor="start" fill="#111" textLength="5.20" lengthAdjust="spacingAndGlyphs">4</text>
<text x="377.70" y="542.10" font-size="10.8" font-weight="bold" fill="#111" textLength="40.83" lengthAdjust="spacingAndGlyphs" transform="rotate(-90 377.70 542.10)">counts</text>
<text x="460.90" y="482.70" font-size="11.8" font-weight="bold" text-anchor="start" fill="#111" textLength="27.65" lengthAdjust="spacingAndGlyphs">c-Kit</text>
<path d="M226.73,706.20 L226.73,704.28 L227.34,702.13 L227.94,699.87 L228.54,699.06 L229.15,696.42 L229.75,694.65 L230.36,692.66 L230.96,690.85 L231.57,689.44 L232.17,685.53 L232.77,684.86 L233.38,681.98 L233.98,675.56 L234.59,671.11 L235.19,667.73 L235.80,667.43 L236.40,662.61 L237.01,660.86 L237.61,657.72 L238.21,652.20 L238.82,647.81 L239.42,640.82 L240.03,637.65 L240.63,640.88 L241.24,637.17 L241.84,635.25 L242.45,630.91 L243.05,630.72 L243.65,629.82 L244.26,631.85 L244.86,627.48 L245.47,633.17 L246.07,634.71 L246.68,642.38 L247.28,646.23 L247.88,645.40 L248.49,648.00 L249.09,652.78 L249.70,656.92 L250.30,663.09 L250.91,664.79 L251.51,670.06 L252.12,671.63 L252.72,675.62 L253.32,677.36 L253.93,682.07 L254.53,684.63 L255.14,688.65 L255.74,690.91 L256.35,691.59 L256.95,692.37 L257.56,696.09 L258.16,697.83 L258.76,698.29 L259.37,699.22 L259.97,700.85 L260.58,700.69 L261.18,701.62 L261.79,703.01 L262.39,703.40 L262.99,703.83 L263.60,704.42 L264.20,704.46 L264.81,704.78 L264.81,706.20 Z" fill="#d2d6e0"/>
<polyline points="218.80,704.71 219.30,704.76 219.80,705.24 220.30,705.75 220.80,704.29 221.30,704.05 221.80,704.16 222.31,705.28 222.81,703.60 223.31,704.92 223.81,704.52 224.31,702.91 224.81,703.70 225.31,703.21 225.81,702.87 226.31,704.23 226.81,701.46 227.32,700.98 227.82,703.38 228.32,701.57 228.82,700.70 229.32,700.84 229.82,700.69 230.32,701.69 230.82,698.24 231.32,697.21 231.82,697.53 232.33,696.40 232.83,697.06 233.33,695.65 233.83,692.57 234.33,690.85 234.83,692.80 235.33,692.61 235.83,686.81 236.33,689.33 236.83,688.47 237.34,685.63 237.84,681.35 238.34,683.31 238.84,681.28 239.34,675.93 239.84,677.42 240.34,672.61 240.84,669.46 241.34,670.17 241.84,668.61 242.35,667.60 242.85,668.29 243.35,668.55 243.85,668.31 244.35,667.30 244.85,666.77 245.35,664.08 245.85,658.54 246.35,656.45 246.86,660.24 247.36,658.70 247.86,659.79 248.36,653.48 248.86,654.25 249.36,661.65 249.86,658.04 250.36,658.79 250.86,652.87 251.36,656.84 251.87,662.86 252.37,660.91 252.87,665.07 253.37,657.89 253.87,661.20 254.37,665.30 254.87,662.62 255.37,666.61 255.87,665.22 256.37,661.91 256.88,662.54 257.38,670.81 257.88,663.44 258.38,664.45 258.88,666.04 259.38,669.69 259.88,671.23 260.38,668.28 260.88,668.81 261.38,671.61 261.89,667.36 262.39,667.99 262.89,669.87 263.39,669.91 263.89,664.61 264.39,665.06 264.89,665.11 265.39,670.03 265.89,669.59 266.39,671.88 266.90,670.40 267.40,666.29 267.90,671.02 268.40,673.20 268.90,668.13 269.40,665.64 269.90,669.04 270.40,668.61 270.90,668.08 271.40,667.39 271.91,668.44 272.41,674.79 272.91,668.64 273.41,673.51 273.91,670.68 274.41,670.97 274.91,676.21 275.41,672.57 275.91,672.08 276.41,674.52 276.92,676.69 277.42,675.79 277.92,678.92 278.42,676.35 278.92,677.97 279.42,680.05 279.92,679.05 280.42,681.50 280.92,680.59 281.43,679.22 281.93,679.95 282.43,684.80 282.93,685.29 283.43,687.17 283.93,686.33 284.43,685.94 284.93,683.84 285.43,687.98 285.93,684.10 286.44,686.07 286.94,684.76 287.44,686.34 287.94,686.19 288.44,687.09 288.94,688.87 289.44,688.21 289.94,686.89 290.44,689.82 290.94,689.60 291.45,690.08 291.95,685.92 292.45,688.97 292.95,690.43 293.45,687.10 293.95,686.81 294.45,690.01 294.95,687.65 295.45,687.85 295.95,690.03 296.46,687.76 296.96,686.90 297.46,687.11 297.96,687.92 298.46,689.87 298.96,688.30 299.46,690.48 299.96,687.01 300.46,688.08 300.96,690.10 301.47,689.49 301.97,689.72 302.47,692.02 302.97,688.87 303.47,688.53 303.97,687.93 304.47,690.26 304.97,689.49 305.47,690.47 305.97,688.34 306.48,688.45 306.98,690.40 307.48,692.33 307.98,690.28 308.48,693.30 308.98,691.85 309.48,691.15 309.98,693.02 310.48,690.61 310.98,692.46 311.49,693.70 311.99,692.42 312.49,691.53 312.99,690.65 313.49,692.94 313.99,691.33 314.49,692.29 314.99,693.17 315.49,695.06 316.00,694.09 316.50,693.67 317.00,695.38 317.50,693.27 318.00,693.86 318.50,695.33 319.00,695.06 319.50,693.95 320.00,694.98 320.50,696.88 321.01,694.82 321.51,696.90 322.01,694.63 322.51,698.60 323.01,698.06 323.51,697.25 324.01,700.09 324.51,699.91 325.01,697.92 325.51,699.07 326.02,700.36 326.52,702.44 327.02,700.31 327.52,700.57 328.02,701.86 328.52,701.44 329.02,702.58 329.52,703.06 330.02,702.92 330.52,702.24 331.03,702.05 331.53,704.27 332.03,703.43 332.53,703.66 333.03,703.78 333.53,704.44 334.03,705.11 334.53,705.04 335.03,704.84 335.53,703.90 336.04,703.51 336.54,703.36 337.04,705.32 337.54,703.36 338.04,704.68 338.54,705.56 339.04,704.15 339.54,704.35 340.04,704.46 340.54,705.80 341.05,705.20 341.55,705.61 342.05,703.70 342.55,705.43" fill="none" stroke="#f2b45c" stroke-width="0.9" stroke-linejoin="round"/>
<polyline points="218.80,705.84 219.30,706.11 219.80,706.20 220.30,706.20 220.80,706.20 221.30,706.20 221.80,705.69 222.31,706.20 222.81,706.20 223.31,706.20 223.81,706.20 224.31,706.20 224.81,706.09 225.31,705.24 225.81,706.20 226.31,705.45 226.81,705.16 227.32,706.20 227.82,706.20 228.32,706.20 228.82,706.20 229.32,705.41 229.82,705.10 230.32,705.15 230.82,706.20 231.32,705.06 231.82,705.14 232.33,704.79 232.83,704.82 233.33,704.71 233.83,705.31 234.33,704.75 234.83,704.96 235.33,706.20 235.83,704.39 236.33,705.81 236.83,705.52 237.34,704.99 237.84,704.89 238.34,705.26 238.84,704.69 239.34,703.68 239.84,703.81 240.34,703.47 240.84,703.75 241.34,705.15 241.84,703.58 242.35,702.52 242.85,703.43 243.35,704.11 243.85,702.91 244.35,703.40 244.85,701.47 245.35,701.16 245.85,702.65 246.35,700.65 246.86,701.17 247.36,701.19 247.86,700.39 248.36,699.68 248.86,699.35 249.36,702.08 249.86,701.05 250.36,701.68 250.86,699.99 251.36,701.29 251.87,700.79 252.37,699.62 252.87,698.81 253.37,698.25 253.87,696.72 254.37,696.76 254.87,697.57 255.37,695.03 255.87,697.11 256.37,695.25 256.88,695.14 257.38,695.58 257.88,694.34 258.38,691.61 258.88,690.49 259.38,687.43 259.88,685.67 260.38,688.92 260.88,685.20 261.38,685.78 261.89,682.60 262.39,676.98 262.89,679.20 263.39,676.55 263.89,670.39 264.39,664.64 264.89,664.09 265.39,660.06 265.89,659.39 266.39,653.90 266.90,658.02 267.40,658.59 267.90,647.34 268.40,652.43 268.90,648.69 269.40,646.02 269.90,649.95 270.40,642.89 270.90,649.70 271.40,641.24 271.91,653.81 272.41,645.69 272.91,645.39 273.41,657.88 273.91,658.51 274.41,660.44 274.91,663.77 275.41,662.49 275.91,662.68 276.41,666.58 276.92,673.94 277.42,676.01 277.92,672.11 278.42,675.75 278.92,677.83 279.42,682.34 279.92,677.57 280.42,684.04 280.92,681.62 281.43,684.59 281.93,683.35 282.43,684.34 282.93,689.85 283.43,688.99 283.93,692.37 284.43,692.31 284.93,692.24 285.43,689.54 285.93,692.45 286.44,694.77 286.94,693.06 287.44,691.65 287.94,692.70 288.44,696.59 288.94,697.00 289.44,694.53 289.94,695.34 290.44,697.21 290.94,696.58 291.45,695.52 291.95,698.72 292.45,697.50 292.95,696.71 293.45,695.62 293.95,697.59 294.45,698.64 294.95,696.72 295.45,696.57 295.95,699.02 296.46,699.87 296.96,698.12 297.46,698.63 297.96,699.36 298.46,699.12 298.96,697.96 299.46,698.63 299.96,698.55 300.46,698.64 300.96,698.41 301.47,699.52 301.97,699.08 302.47,701.24 302.97,699.66 303.47,701.83 303.97,701.45 304.47,699.85 304.97,699.61 305.47,701.04 305.97,700.85 306.48,701.16 306.98,700.02 307.48,701.38 307.98,702.18 308.48,701.35 308.98,700.91 309.48,702.96 309.98,701.15 310.48,703.25 310.98,702.38 311.49,700.40 311.99,701.75 312.49,700.91 312.99,702.81 313.49,701.78 313.99,700.85 314.49,703.40 314.99,702.99 315.49,702.47 316.00,702.39 316.50,701.01 317.00,703.66 317.50,701.75 318.00,702.42 318.50,702.36 319.00,702.35 319.50,701.10 320.00,703.61 320.50,702.52 321.01,702.28 321.51,703.63 322.01,703.67 322.51,703.35 323.01,703.96 323.51,702.49 324.01,701.91 324.51,702.66 325.01,703.44 325.51,704.02 326.02,703.96 326.52,703.76 327.02,703.76 327.52,704.02 328.02,703.86 328.52,702.48 329.02,703.95 329.52,703.33 330.02,702.89 330.52,704.37 331.03,705.03 331.53,703.68 332.03,704.66 332.53,704.55 333.03,704.69 333.53,705.17 334.03,704.73 334.53,703.17 335.03,704.53 335.53,703.85 336.04,704.02 336.54,704.67 337.04,703.40 337.54,704.55 338.04,705.34 338.54,703.16 339.04,705.12 339.54,704.76 340.04,703.99 340.54,704.90 341.05,703.17 341.55,703.37 342.05,705.49 342.55,704.54" fill="none" stroke="#d6284a" stroke-width="1.05" stroke-linejoin="round"/>
<line x1="217.90" y1="612.20" x2="217.90" y2="706.80" stroke="#1a1a1a" stroke-width="1.5"/>
<line x1="217.90" y1="706.80" x2="342.60" y2="706.80" stroke="#1a1a1a" stroke-width="1.5"/>
<line x1="217.90" y1="706.80" x2="217.90" y2="710.80" stroke="#1a1a1a" stroke-width="1.3"/>
<line x1="249.08" y1="706.80" x2="249.08" y2="710.80" stroke="#1a1a1a" stroke-width="1.3"/>
<line x1="280.25" y1="706.80" x2="280.25" y2="710.80" stroke="#1a1a1a" stroke-width="1.3"/>
<line x1="311.43" y1="706.80" x2="311.43" y2="710.80" stroke="#1a1a1a" stroke-width="1.3"/>
<line x1="342.60" y1="706.80" x2="342.60" y2="710.80" stroke="#1a1a1a" stroke-width="1.3"/>
<text x="222.44" y="726.10" font-size="12.4" font-weight="bold" text-anchor="end" fill="#111" textLength="14.10" lengthAdjust="spacingAndGlyphs">10</text>
<text x="223.28" y="718.80" font-size="9.0" font-weight="bold" text-anchor="start" fill="#111" textLength="5.85" lengthAdjust="spacingAndGlyphs">0</text>
<text x="284.19" y="726.10" font-size="12.4" font-weight="bold" text-anchor="end" fill="#111" textLength="14.10" lengthAdjust="spacingAndGlyphs">10</text>
<text x="287.09" y="718.80" font-size="9.0" font-weight="bold" text-anchor="start" fill="#111" textLength="5.79" lengthAdjust="spacingAndGlyphs">2</text>
<text x="345.04" y="726.10" font-size="12.4" font-weight="bold" text-anchor="end" fill="#111" textLength="14.10" lengthAdjust="spacingAndGlyphs">10</text>
<text x="347.26" y="718.80" font-size="9.0" font-weight="bold" text-anchor="start" fill="#111" textLength="5.20" lengthAdjust="spacingAndGlyphs">4</text>
<text x="214.10" y="683.40" font-size="10.8" font-weight="bold" fill="#111" textLength="40.83" lengthAdjust="spacingAndGlyphs" transform="rotate(-90 214.10 683.40)">counts</text>
<text x="298.41" y="615.80" font-size="11.8" font-weight="bold" text-anchor="start" fill="#111" textLength="25.63" lengthAdjust="spacingAndGlyphs">GPA</text>
<path d="M386.15,705.70 L386.15,705.70 L386.76,705.57 L387.37,703.50 L387.97,702.63 L388.58,702.42 L389.19,700.89 L389.79,698.91 L390.40,698.12 L391.01,697.46 L391.61,694.19 L392.22,690.76 L392.83,690.50 L393.43,685.97 L394.04,684.85 L394.65,681.79 L395.25,678.20 L395.86,677.17 L396.47,670.87 L397.07,669.58 L397.68,663.51 L398.29,664.32 L398.89,656.13 L399.50,654.61 L400.11,653.15 L400.72,650.56 L401.32,642.08 L401.93,644.68 L402.54,641.50 L403.14,634.46 L403.75,635.90 L404.36,629.39 L404.96,626.57 L405.57,624.45 L406.18,623.67 L406.78,628.70 L407.39,625.78 L408.00,631.89 L408.60,633.50 L409.21,630.27 L409.82,634.69 L410.42,634.38 L411.03,641.42 L411.64,645.21 L412.24,648.65 L412.85,649.08 L413.46,656.02 L414.06,656.79 L414.67,664.44 L415.28,666.08 L415.88,668.08 L416.49,675.57 L417.10,678.74 L417.70,679.45 L418.31,684.49 L418.92,685.49 L419.52,689.24 L420.13,692.10 L420.74,694.39 L421.34,694.70 L421.95,696.54 L422.56,698.63 L423.16,700.70 L423.77,702.02 L424.38,702.63 L424.98,702.56 L425.59,704.06 L426.20,704.14 L426.80,704.33 L427.41,705.19 L428.02,705.70 L428.62,705.70 L429.23,705.70 L429.23,705.70 Z" fill="#d2d6e0"/>
<polyline points="383.08,705.70 383.58,705.46 384.08,705.05 384.58,705.70 385.08,705.44 385.58,705.45 386.08,704.87 386.58,704.21 387.08,704.79 387.58,704.16 388.08,704.42 388.58,703.86 389.08,704.08 389.58,702.76 390.08,701.73 390.58,701.44 391.08,702.55 391.58,700.31 392.08,701.14 392.58,700.42 393.08,697.98 393.58,699.75 394.08,696.54 394.58,698.86 395.08,698.17 395.58,695.21 396.09,696.55 396.59,695.97 397.09,692.65 397.59,693.70 398.09,689.98 398.59,692.44 399.09,690.15 399.59,690.46 400.09,684.28 400.59,684.43 401.09,684.90 401.59,683.61 402.09,679.70 402.59,682.97 403.09,681.52 403.59,676.49 404.09,673.99 404.59,676.43 405.09,673.15 405.59,673.81 406.09,671.14 406.59,668.99 407.09,664.45 407.59,664.00 408.09,665.35 408.59,666.33 409.09,662.01 409.59,663.61 410.09,660.12 410.59,662.12 411.09,658.98 411.59,655.00 412.10,652.54 412.60,651.23 413.10,650.41 413.60,658.80 414.10,659.16 414.60,658.79 415.10,653.03 415.60,659.77 416.10,655.35 416.60,663.99 417.10,662.64 417.60,664.52 418.10,664.15 418.60,663.36 419.10,668.29 419.60,670.24 420.10,664.72 420.60,666.78 421.10,669.68 421.60,669.54 422.10,667.56 422.60,668.23 423.10,672.94 423.60,667.45 424.10,667.26 424.60,671.53 425.10,668.28 425.60,673.52 426.10,668.94 426.60,673.97 427.10,669.64 427.60,673.88 428.11,672.91 428.61,672.88 429.11,668.81 429.61,668.54 430.11,667.60 430.61,668.94 431.11,673.12 431.61,668.73 432.11,670.48 432.61,673.44 433.11,670.63 433.61,672.36 434.11,671.98 434.61,675.74 435.11,671.95 435.61,678.85 436.11,676.27 436.61,677.47 437.11,676.77 437.61,677.00 438.11,680.92 438.61,680.97 439.11,681.07 439.61,676.39 440.11,680.73 440.61,683.61 441.11,682.27 441.61,682.10 442.11,683.56 442.61,681.33 443.11,685.22 443.61,685.91 444.12,682.15 444.62,685.06 445.12,685.91 445.62,684.92 446.12,687.13 446.62,688.81 447.12,689.07 447.62,686.23 448.12,685.79 448.62,689.85 449.12,688.95 449.62,690.24 450.12,690.56 450.62,687.69 451.12,689.38 451.62,688.07 452.12,690.67 452.62,690.26 453.12,688.14 453.62,689.56 454.12,690.15 454.62,688.50 455.12,688.38 455.62,689.93 456.12,688.11 456.62,690.29 457.12,692.54 457.62,692.12 458.12,688.57 458.62,692.35 459.12,691.95 459.62,692.04 460.13,688.98 460.63,692.52 461.13,690.03 461.63,692.96 462.13,690.87 462.63,691.20 463.13,690.45 463.63,693.72 464.13,690.93 464.63,693.98 465.13,692.50 465.63,691.00 466.13,693.37 466.63,692.95 467.13,690.87 467.63,694.47 468.13,692.20 468.63,691.26 469.13,694.58 469.63,694.53 470.13,693.20 470.63,692.49 471.13,694.05 471.63,694.42 472.13,694.97 472.63,694.27 473.13,694.72 473.63,695.47 474.13,693.42 474.63,693.52 475.13,694.87 475.63,696.08 476.14,696.39 476.64,696.71 477.14,695.20 477.64,696.40 478.14,694.15 478.64,695.38 479.14,694.27 479.64,697.35 480.14,698.10 480.64,696.96 481.14,697.39 481.64,696.08 482.14,697.79 482.64,695.27 483.14,696.46 483.64,696.52 484.14,698.52 484.64,696.13 485.14,696.21 485.64,696.09 486.14,698.91 486.64,697.29 487.14,699.59 487.64,697.79 488.14,699.83 488.64,697.91 489.14,700.52 489.64,700.98 490.14,700.91 490.64,700.55 491.14,701.43 491.64,701.72 492.15,702.10 492.65,700.26 493.15,702.23 493.65,702.26 494.15,701.24 494.65,701.00 495.15,703.31 495.65,702.36 496.15,702.77 496.65,703.97 497.15,703.15 497.65,702.80 498.15,704.16 498.65,703.96 499.15,703.42 499.65,704.56 500.15,705.18 500.65,703.66 501.15,705.14 501.65,705.09 502.15,704.64 502.65,703.96 503.15,705.17 503.65,704.37 504.15,704.41 504.65,705.70 505.15,704.66 505.65,704.36 506.15,705.70" fill="none" stroke="#f2b45c" stroke-width="0.9" stroke-linejoin="round"/>
<polyline points="383.08,705.70 383.58,705.24 384.08,705.70 384.58,705.64 385.08,705.70 385.58,705.70 386.08,705.70 386.58,705.26 387.08,705.70 387.58,705.09 388.08,705.49 388.58,705.70 389.08,705.03 389.58,705.38 390.08,705.70 390.58,705.70 391.08,705.37 391.58,705.70 392.08,705.70 392.58,704.84 393.08,705.70 393.58,705.70 394.08,705.52 394.58,705.09 395.08,705.70 395.58,705.45 396.09,704.89 396.59,704.88 397.09,705.70 397.59,705.70 398.09,705.70 398.59,705.70 399.09,705.70 399.59,705.70 400.09,705.36 400.59,705.70 401.09,705.70 401.59,705.70 402.09,705.70 402.59,705.70 403.09,705.70 403.59,704.47 404.09,704.86 404.59,704.97 405.09,704.48 405.59,704.81 406.09,704.49 406.59,704.66 407.09,705.23 407.59,704.34 408.09,704.10 408.59,703.45 409.09,703.33 409.59,704.78 410.09,703.80 410.59,703.45 411.09,702.04 411.59,703.29 412.10,701.49 412.60,701.83 413.10,703.31 413.60,702.07 414.10,701.58 414.60,701.71 415.10,701.95 415.60,701.00 416.10,697.71 416.60,695.42 417.10,694.91 417.60,693.16 418.10,691.35 418.60,692.82 419.10,689.69 419.60,683.64 420.10,682.68 420.60,678.00 421.10,678.73 421.60,672.13 422.10,665.40 422.60,660.02 423.10,658.17 423.60,651.72 424.10,652.07 424.60,652.67 425.10,643.40 425.60,640.52 426.10,650.67 426.60,644.82 427.10,639.90 427.60,639.69 428.11,642.28 428.61,650.54 429.11,654.39 429.61,652.17 430.11,650.32 430.61,655.80 431.11,664.38 431.61,662.16 432.11,668.73 432.61,670.06 433.11,665.30 433.61,673.64 434.11,675.16 434.61,675.39 435.11,674.77 435.61,678.76 436.11,676.50 436.61,680.02 437.11,681.49 437.61,685.86 438.11,686.64 438.61,684.26 439.11,686.26 439.61,685.19 440.11,689.76 440.61,690.17 441.11,687.90 441.61,690.27 442.11,690.78 442.61,689.29 443.11,692.76 443.61,691.85 444.12,693.07 444.62,692.06 445.12,689.79 445.62,691.38 446.12,690.15 446.62,694.34 447.12,694.23 447.62,694.14 448.12,691.95 448.62,690.99 449.12,694.69 449.62,694.93 450.12,691.04 450.62,692.67 451.12,690.70 451.62,693.64 452.12,693.54 452.62,690.56 453.12,691.99 453.62,692.21 454.12,690.78 454.62,693.43 455.12,691.25 455.62,690.13 456.12,691.48 456.62,692.20 457.12,689.55 457.62,689.90 458.12,692.98 458.62,691.18 459.12,689.99 459.62,690.21 460.13,688.09 460.63,688.33 461.13,688.63 461.63,689.63 462.13,687.57 462.63,687.26 463.13,686.31 463.63,689.67 464.13,688.17 464.63,691.99 465.13,692.23 465.63,689.00 466.13,690.31 466.63,693.01 467.13,691.76 467.63,692.20 468.13,696.29 468.63,695.54 469.13,695.90 469.63,697.75 470.13,698.47 470.63,696.94 471.13,697.32 471.63,699.13 472.13,699.78 472.63,700.59 473.13,702.03 473.63,702.51 474.13,703.84 474.63,701.78 475.13,702.95 475.63,703.15 476.14,704.82 476.64,703.65 477.14,703.73 477.64,704.38 478.14,704.35 478.64,704.04 479.14,704.00 479.64,705.64 480.14,704.53 480.64,705.55 481.14,704.85 481.64,703.70 482.14,705.70 482.64,705.61 483.14,705.70 483.64,705.70 484.14,705.70 484.64,704.17 485.14,704.95 485.64,704.35 486.14,704.81 486.64,704.06 487.14,704.83 487.64,705.70 488.14,704.63 488.64,705.70 489.14,705.13 489.64,705.09 490.14,705.70 490.64,705.70 491.14,705.49 491.64,705.70 492.15,704.65 492.65,705.00 493.15,705.70 493.65,705.69 494.15,705.64 494.65,705.70 495.15,704.63 495.65,705.70 496.15,705.68 496.65,705.70 497.15,704.99 497.65,705.70 498.15,704.88 498.65,705.14 499.15,705.70 499.65,705.70 500.15,705.35 500.65,705.12 501.15,705.70 501.65,705.46 502.15,705.70 502.65,705.70 503.15,705.70 503.65,705.70 504.15,705.70 504.65,705.70 505.15,705.59 505.65,705.70 506.15,705.70" fill="none" stroke="#d6284a" stroke-width="1.05" stroke-linejoin="round"/>
<line x1="381.50" y1="612.20" x2="381.50" y2="706.30" stroke="#1a1a1a" stroke-width="1.5"/>
<line x1="381.50" y1="706.30" x2="506.20" y2="706.30" stroke="#1a1a1a" stroke-width="1.5"/>
<line x1="381.50" y1="706.30" x2="381.50" y2="710.30" stroke="#1a1a1a" stroke-width="1.3"/>
<line x1="412.68" y1="706.30" x2="412.68" y2="710.30" stroke="#1a1a1a" stroke-width="1.3"/>
<line x1="443.85" y1="706.30" x2="443.85" y2="710.30" stroke="#1a1a1a" stroke-width="1.3"/>
<line x1="475.02" y1="706.30" x2="475.02" y2="710.30" stroke="#1a1a1a" stroke-width="1.3"/>
<line x1="506.20" y1="706.30" x2="506.20" y2="710.30" stroke="#1a1a1a" stroke-width="1.3"/>
<text x="386.04" y="725.60" font-size="12.4" font-weight="bold" text-anchor="end" fill="#111" textLength="14.10" lengthAdjust="spacingAndGlyphs">10</text>
<text x="386.88" y="718.30" font-size="9.0" font-weight="bold" text-anchor="start" fill="#111" textLength="5.85" lengthAdjust="spacingAndGlyphs">0</text>
<text x="447.79" y="725.60" font-size="12.4" font-weight="bold" text-anchor="end" fill="#111" textLength="14.10" lengthAdjust="spacingAndGlyphs">10</text>
<text x="450.69" y="718.30" font-size="9.0" font-weight="bold" text-anchor="start" fill="#111" textLength="5.79" lengthAdjust="spacingAndGlyphs">2</text>
<text x="508.64" y="725.60" font-size="12.4" font-weight="bold" text-anchor="end" fill="#111" textLength="14.10" lengthAdjust="spacingAndGlyphs">10</text>
<text x="510.86" y="718.30" font-size="9.0" font-weight="bold" text-anchor="start" fill="#111" textLength="5.20" lengthAdjust="spacingAndGlyphs">4</text>
<text x="377.70" y="682.90" font-size="10.8" font-weight="bold" fill="#111" textLength="40.83" lengthAdjust="spacingAndGlyphs" transform="rotate(-90 377.70 682.90)">counts</text>
<text x="461.11" y="616.70" font-size="11.8" font-weight="bold" text-anchor="start" fill="#111" textLength="25.53" lengthAdjust="spacingAndGlyphs">GPA</text>
<path d="M220.38,847.40 L220.38,847.40 L220.99,843.45 L221.60,840.36 L222.20,836.43 L222.81,834.46 L223.42,833.29 L224.02,828.52 L224.63,826.70 L225.24,825.30 L225.84,820.21 L226.45,817.32 L227.06,816.99 L227.66,814.74 L228.27,808.70 L228.88,804.95 L229.48,806.04 L230.09,799.49 L230.70,798.05 L231.30,795.07 L231.91,793.08 L232.52,793.17 L233.12,791.75 L233.73,788.11 L234.34,787.28 L234.94,785.83 L235.55,784.12 L236.16,781.93 L236.76,779.78 L237.37,779.46 L237.98,783.93 L238.58,781.57 L239.19,776.34 L239.80,782.04 L240.40,776.39 L241.01,779.13 L241.62,776.41 L242.22,773.99 L242.83,772.60 L243.44,775.42 L244.04,775.06 L244.65,777.79 L245.26,779.50 L245.86,782.16 L246.47,784.09 L247.08,784.07 L247.68,788.93 L248.29,788.58 L248.90,794.19 L249.50,796.65 L250.11,799.60 L250.72,798.62 L251.32,804.15 L251.93,806.89 L252.54,807.91 L253.14,812.28 L253.75,815.98 L254.36,817.04 L254.96,820.23 L255.57,825.29 L256.18,827.78 L256.78,832.33 L257.39,833.93 L258.00,835.64 L258.60,837.34 L259.21,838.02 L259.82,840.74 L260.42,841.95 L261.03,844.53 L261.63,847.28 L261.63,847.40 Z" fill="#d2d6e0"/>
<polyline points="255.29,846.18 255.79,846.47 256.29,845.35 256.79,846.66 257.29,844.89 257.80,845.40 258.30,846.08 258.80,844.39 259.30,845.63 259.80,844.70 260.30,843.90 260.81,843.83 261.31,843.41 261.81,842.44 262.31,844.06 262.81,841.96 263.31,843.47 263.81,842.77 264.32,839.83 264.82,840.26 265.32,840.47 265.82,841.13 266.32,838.40 266.82,839.46 267.32,838.05 267.83,839.12 268.33,839.19 268.83,838.08 269.33,835.29 269.83,837.11 270.33,835.27 270.84,836.48 271.34,834.40 271.84,835.85 272.34,835.74 272.84,834.53 273.34,834.07 273.84,833.56 274.35,831.97 274.85,829.40 275.35,832.98 275.85,829.83 276.35,826.98 276.85,828.66 277.35,828.05 277.86,826.37 278.36,830.08 278.86,824.81 279.36,828.83 279.86,826.29 280.36,823.60 280.86,824.15 281.37,824.20 281.87,821.64 282.37,825.14 282.87,823.96 283.37,825.60 283.87,824.12 284.38,822.88 284.88,823.37 285.38,821.99 285.88,818.99 286.38,817.24 286.88,816.13 287.38,817.37 287.89,817.30 288.39,815.60 288.89,814.73 289.39,806.96 289.89,809.25 290.39,805.64 290.89,809.72 291.40,809.43 291.90,809.01 292.40,811.40 292.90,805.52 293.40,809.77 293.90,808.25 294.41,804.63 294.91,811.31 295.41,802.65 295.91,806.15 296.41,806.55 296.91,806.67 297.41,809.79 297.92,805.26 298.42,807.96 298.92,801.80 299.42,803.09 299.92,799.32 300.42,803.65 300.92,800.99 301.43,804.13 301.93,796.84 302.43,799.90 302.93,804.44 303.43,793.59 303.93,799.42 304.44,798.63 304.94,798.19 305.44,795.34 305.94,793.71 306.44,798.33 306.94,790.08 307.44,794.44 307.95,793.54 308.45,793.76 308.95,790.31 309.45,784.42 309.95,793.23 310.45,787.03 310.95,792.83 311.46,795.07 311.96,792.28 312.46,787.44 312.96,792.27 313.46,785.70 313.96,784.10 314.47,786.51 314.97,786.83 315.47,786.52 315.97,785.21 316.47,784.12 316.97,789.10 317.47,784.59 317.98,788.86 318.48,782.23 318.98,785.30 319.48,796.25 319.98,791.04 320.48,795.55 320.98,794.08 321.49,803.69 321.99,801.51 322.49,800.41 322.99,804.10 323.49,811.54 323.99,811.41 324.49,806.50 325.00,815.91 325.50,810.31 326.00,815.09 326.50,816.97 327.00,820.25 327.50,817.25 328.01,823.39 328.51,821.29 329.01,825.70 329.51,828.25 330.01,827.75 330.51,826.07 331.01,831.11 331.52,831.41 332.02,834.05 332.52,835.49 333.02,833.82 333.52,837.01 334.02,838.54 334.52,840.77 335.03,840.48 335.53,841.22 336.03,842.45 336.53,841.30 337.03,844.15 337.53,844.08 338.04,844.73 338.54,843.71 339.04,844.96 339.54,844.93 340.04,844.69 340.54,846.80 341.04,846.81 341.55,846.14 342.05,845.50 342.55,847.40" fill="none" stroke="#f2b45c" stroke-width="0.9" stroke-linejoin="round"/>
<polyline points="255.29,847.40 255.79,845.62 256.29,846.46 256.79,845.11 257.29,845.60 257.79,843.39 258.29,844.14 258.79,841.27 259.29,843.37 259.79,841.03 260.29,839.76 260.79,839.79 261.29,840.27 261.79,837.56 262.29,838.06 262.79,835.85 263.29,835.27 263.80,834.88 264.30,834.34 264.80,833.75 265.30,834.53 265.80,831.34 266.30,832.07 266.80,830.88 267.30,829.47 267.80,828.38 268.30,824.08 268.80,822.25 269.30,821.31 269.80,816.43 270.30,810.76 270.80,811.27 271.30,808.42 271.80,801.09 272.30,795.98 272.80,792.70 273.30,794.43 273.80,791.97 274.30,786.17 274.80,781.06 275.30,773.60 275.80,771.10 276.30,780.16 276.80,778.90 277.31,778.39 277.81,774.97 278.31,774.84 278.81,776.15 279.31,775.51 279.81,781.41 280.31,776.90 280.81,779.81 281.31,777.56 281.81,778.72 282.31,781.08 282.81,782.07 283.31,773.78 283.81,785.49 284.31,784.49 284.81,784.51 285.31,780.01 285.81,786.36 286.31,783.75 286.81,775.08 287.31,780.57 287.81,782.13 288.31,780.06 288.81,782.13 289.31,777.84 289.81,780.81 290.31,773.60 290.82,782.66 291.32,776.68 291.82,785.24 292.32,786.44 292.82,778.00 293.32,772.53 293.82,770.81 294.32,776.25 294.82,769.75 295.32,778.97 295.82,778.58 296.32,778.53 296.82,782.36 297.32,776.85 297.82,782.48 298.32,778.89 298.82,787.32 299.32,792.30 299.82,786.63 300.32,794.90 300.82,800.24 301.32,794.82 301.82,795.68 302.32,798.23 302.82,806.00 303.32,800.77 303.82,809.25 304.33,806.65 304.83,812.90 305.33,815.88 305.83,817.44 306.33,814.47 306.83,819.09 307.33,819.52 307.83,824.81 308.33,822.10 308.83,822.36 309.33,824.83 309.83,824.00 310.33,825.84 310.83,829.49 311.33,828.48 311.83,828.79 312.33,833.53 312.83,831.26 313.33,834.75 313.83,835.21 314.33,835.80 314.83,837.41 315.33,838.37 315.83,840.54 316.33,841.22 316.83,841.09 317.33,843.33 317.84,843.54 318.34,845.33 318.84,843.81 319.34,845.35 319.84,847.25 320.34,845.77" fill="none" stroke="#d6284a" stroke-width="1.05" stroke-linejoin="round"/>
<line x1="217.90" y1="753.80" x2="217.90" y2="848.00" stroke="#1a1a1a" stroke-width="1.5"/>
<line x1="217.90" y1="848.00" x2="342.60" y2="848.00" stroke="#1a1a1a" stroke-width="1.5"/>
<line x1="217.90" y1="848.00" x2="217.90" y2="852.00" stroke="#1a1a1a" stroke-width="1.3"/>
<line x1="249.08" y1="848.00" x2="249.08" y2="852.00" stroke="#1a1a1a" stroke-width="1.3"/>
<line x1="280.25" y1="848.00" x2="280.25" y2="852.00" stroke="#1a1a1a" stroke-width="1.3"/>
<line x1="311.43" y1="848.00" x2="311.43" y2="852.00" stroke="#1a1a1a" stroke-width="1.3"/>
<line x1="342.60" y1="848.00" x2="342.60" y2="852.00" stroke="#1a1a1a" stroke-width="1.3"/>
<text x="222.44" y="867.30" font-size="12.4" font-weight="bold" text-anchor="end" fill="#111" textLength="14.10" lengthAdjust="spacingAndGlyphs">10</text>
<text x="223.28" y="860.00" font-size="9.0" font-weight="bold" text-anchor="start" fill="#111" textLength="5.85" lengthAdjust="spacingAndGlyphs">0</text>
<text x="284.19" y="867.30" font-size="12.4" font-weight="bold" text-anchor="end" fill="#111" textLength="14.10" lengthAdjust="spacingAndGlyphs">10</text>
<text x="287.09" y="860.00" font-size="9.0" font-weight="bold" text-anchor="start" fill="#111" textLength="5.79" lengthAdjust="spacingAndGlyphs">2</text>
<text x="345.04" y="867.30" font-size="12.4" font-weight="bold" text-anchor="end" fill="#111" textLength="14.10" lengthAdjust="spacingAndGlyphs">10</text>
<text x="347.26" y="860.00" font-size="9.0" font-weight="bold" text-anchor="start" fill="#111" textLength="5.20" lengthAdjust="spacingAndGlyphs">4</text>
<text x="214.10" y="824.60" font-size="10.8" font-weight="bold" fill="#111" textLength="40.83" lengthAdjust="spacingAndGlyphs" transform="rotate(-90 214.10 824.60)">counts</text>
<text x="298.42" y="758.60" font-size="11.8" font-weight="bold" text-anchor="start" fill="#111" textLength="33.77" lengthAdjust="spacingAndGlyphs">CD 71</text>
<path d="M384.62,847.20 L384.62,846.73 L385.22,842.23 L385.82,836.84 L386.42,834.03 L387.02,830.20 L387.62,826.78 L388.22,825.59 L388.82,822.32 L389.42,819.67 L390.02,815.96 L390.62,810.85 L391.23,808.73 L391.83,804.92 L392.43,804.94 L393.03,798.20 L393.63,800.26 L394.23,794.12 L394.83,792.52 L395.43,792.26 L396.03,791.09 L396.63,788.50 L397.24,787.31 L397.84,786.05 L398.44,784.64 L399.04,780.37 L399.64,781.19 L400.24,778.46 L400.84,781.97 L401.44,779.30 L402.04,778.02 L402.64,777.35 L403.25,781.69 L403.85,774.34 L404.45,779.65 L405.05,779.84 L405.65,774.82 L406.25,780.55 L406.85,777.07 L407.45,782.05 L408.05,779.61 L408.65,782.61 L409.25,785.46 L409.86,787.66 L410.46,793.65 L411.06,795.44 L411.66,794.74 L412.26,800.86 L412.86,801.34 L413.46,804.89 L414.06,809.02 L414.66,811.72 L415.26,815.79 L415.87,820.42 L416.47,822.56 L417.07,824.72 L417.67,828.58 L418.27,829.69 L418.87,833.69 L419.47,836.60 L420.07,838.83 L420.67,840.40 L421.27,842.92 L421.88,844.37 L422.48,845.65 L423.08,847.20 L423.08,847.20 Z" fill="#d2d6e0"/>
<polyline points="393.85,846.29 394.35,846.44 394.85,847.04 395.35,845.89 395.85,845.89 396.35,846.76 396.85,846.28 397.35,845.98 397.86,846.09 398.36,845.91 398.86,845.53 399.36,846.62 399.86,847.20 400.36,846.75 400.86,846.62 401.36,845.93 401.87,846.15 402.37,845.47 402.87,846.85 403.37,845.83 403.87,845.82 404.37,847.20 404.87,845.93 405.37,847.20 405.88,846.59 406.38,846.92 406.88,846.61 407.38,845.55 407.88,846.81 408.38,845.74 408.88,846.09 409.38,845.44 409.89,845.27 410.39,846.00 410.89,845.16 411.39,846.04 411.89,847.13 412.39,847.20 412.89,846.13 413.39,845.39 413.89,845.95 414.40,845.28 414.90,845.64 415.40,846.59 415.90,846.58 416.40,845.21 416.90,846.28 417.40,846.13 417.90,846.07 418.41,845.45 418.91,846.06 419.41,845.37 419.91,846.75 420.41,846.66 420.91,846.61 421.41,846.09 421.91,847.16 422.42,845.42 422.92,844.67 423.42,844.76 423.92,845.84 424.42,843.52 424.92,844.83 425.42,845.00 425.92,844.46 426.43,843.03 426.93,842.66 427.43,843.60 427.93,842.72 428.43,842.54 428.93,840.03 429.43,840.93 429.93,840.88 430.44,838.65 430.94,838.01 431.44,839.81 431.94,838.32 432.44,837.21 432.94,837.00 433.44,835.58 433.94,835.00 434.44,833.75 434.95,834.36 435.45,832.59 435.95,835.32 436.45,835.01 436.95,832.70 437.45,829.66 437.95,831.51 438.45,828.65 438.96,829.10 439.46,827.18 439.96,828.50 440.46,825.19 440.96,825.28 441.46,823.97 441.96,824.33 442.46,826.21 442.97,823.03 443.47,823.38 443.97,822.04 444.47,819.74 444.97,815.08 445.47,813.40 445.97,812.36 446.47,813.78 446.98,810.84 447.48,814.27 447.98,806.84 448.48,805.19 448.98,808.69 449.48,807.40 449.98,801.26 450.48,802.94 450.99,803.24 451.49,806.71 451.99,806.13 452.49,806.88 452.99,803.45 453.49,807.20 453.99,802.48 454.49,800.54 454.99,798.91 455.50,805.54 456.00,803.64 456.50,803.18 457.00,806.64 457.50,803.09 458.00,799.77 458.50,803.47 459.00,805.66 459.51,798.06 460.01,805.60 460.51,800.18 461.01,797.01 461.51,800.86 462.01,803.27 462.51,799.95 463.01,797.29 463.52,802.05 464.02,794.77 464.52,800.33 465.02,796.70 465.52,798.98 466.02,797.48 466.52,794.67 467.02,793.48 467.53,799.76 468.03,795.35 468.53,792.94 469.03,795.84 469.53,797.31 470.03,789.18 470.53,792.84 471.03,788.83 471.53,795.41 472.04,786.53 472.54,794.98 473.04,790.79 473.54,789.27 474.04,788.53 474.54,784.32 475.04,785.46 475.54,781.11 476.05,783.22 476.55,786.03 477.05,785.98 477.55,782.04 478.05,785.55 478.55,787.79 479.05,789.03 479.55,780.79 480.06,788.41 480.56,785.90 481.06,796.16 481.56,796.22 482.06,797.51 482.56,802.05 483.06,803.87 483.56,803.09 484.07,811.49 484.57,806.01 485.07,807.99 485.57,812.19 486.07,813.12 486.57,816.49 487.07,819.72 487.57,819.67 488.08,824.97 488.58,822.34 489.08,827.56 489.58,829.02 490.08,827.78 490.58,830.39 491.08,827.84 491.58,833.39 492.08,832.25 492.59,832.71 493.09,835.98 493.59,834.36 494.09,833.73 494.59,834.19 495.09,837.98 495.59,836.22 496.09,838.63 496.60,837.30 497.10,840.51 497.60,841.52 498.10,839.96 498.60,841.87 499.10,842.68 499.60,841.09 500.10,842.33 500.61,844.37 501.11,844.70 501.61,844.08 502.11,844.43 502.61,843.45 503.11,845.95 503.61,846.62 504.11,846.06 504.62,845.68" fill="none" stroke="#f2b45c" stroke-width="0.9" stroke-linejoin="round"/>
<polyline points="393.85,847.20 394.35,845.54 394.85,847.20 395.35,845.69 395.85,846.22 396.35,847.20 396.85,845.97 397.35,846.33 397.85,845.51 398.36,847.20 398.86,847.20 399.36,845.54 399.86,845.42 400.36,846.24 400.86,846.35 401.36,846.96 401.86,845.94 402.36,846.52 402.87,845.51 403.37,845.63 403.87,845.32 404.37,846.42 404.87,846.46 405.37,846.58 405.87,847.20 406.37,845.85 406.87,845.94 407.37,846.22 407.88,847.20 408.38,845.85 408.88,845.81 409.38,846.14 409.88,846.75 410.38,845.79 410.88,845.54 411.38,846.85 411.88,846.48 412.39,846.49 412.89,845.16 413.39,845.72 413.89,845.37 414.39,845.99 414.89,847.20 415.39,847.20 415.89,847.12 416.39,846.00 416.89,846.46 417.40,847.20 417.90,845.94 418.40,846.07 418.90,846.64 419.40,845.55 419.90,845.67 420.40,845.19 420.90,846.14 421.40,845.18 421.91,843.89 422.41,843.46 422.91,844.91 423.41,843.30 423.91,844.59 424.41,843.16 424.91,843.64 425.41,842.59 425.91,843.01 426.41,840.92 426.92,841.26 427.42,841.55 427.92,839.74 428.42,841.72 428.92,841.26 429.42,840.72 429.92,840.12 430.42,839.70 430.92,837.73 431.43,838.05 431.93,835.57 432.43,833.36 432.93,836.31 433.43,835.59 433.93,831.83 434.43,831.61 434.93,830.15 435.43,831.76 435.94,828.24 436.44,830.84 436.94,825.93 437.44,826.54 437.94,827.40 438.44,824.33 438.94,820.80 439.44,818.67 439.94,821.63 440.44,816.11 440.95,816.16 441.45,817.16 441.95,813.32 442.45,809.42 442.95,813.89 443.45,811.69 443.95,809.10 444.45,802.79 444.95,804.62 445.46,807.60 445.96,801.54 446.46,797.34 446.96,802.94 447.46,795.21 447.96,795.60 448.46,790.06 448.96,796.52 449.46,793.00 449.96,789.71 450.47,787.75 450.97,784.32 451.47,784.31 451.97,783.48 452.47,775.78 452.97,784.48 453.47,784.56 453.97,774.27 454.47,775.18 454.98,782.55 455.48,776.92 455.98,773.04 456.48,779.84 456.98,783.15 457.48,775.21 457.98,779.55 458.48,779.96 458.98,781.04 459.48,782.57 459.99,787.76 460.49,788.01 460.99,789.28 461.49,787.69 461.99,789.57 462.49,790.46 462.99,791.24 463.49,791.73 463.99,793.81 464.50,786.89 465.00,789.50 465.50,796.20 466.00,794.92 466.50,794.11 467.00,799.81 467.50,796.45 468.00,803.37 468.50,800.23 469.00,807.31 469.51,802.65 470.01,809.72 470.51,804.83 471.01,809.94 471.51,805.21 472.01,809.44 472.51,809.06 473.01,813.97 473.51,813.36 474.02,812.85 474.52,809.84 475.02,813.79 475.52,812.25 476.02,811.89 476.52,817.15 477.02,816.63 477.52,820.62 478.02,820.10 478.53,815.04 479.03,822.06 479.53,819.83 480.03,823.62 480.53,819.68 481.03,821.42 481.53,823.55 482.03,821.42 482.53,823.05 483.03,823.31 483.54,824.01 484.04,825.88 484.54,826.31 485.04,829.14 485.54,826.24 486.04,826.91 486.54,827.73 487.04,826.76 487.54,828.97 488.05,829.58 488.55,828.83 489.05,831.44 489.55,829.87 490.05,833.75 490.55,834.91 491.05,833.85 491.55,832.52 492.05,832.84 492.55,832.98 493.06,834.03 493.56,837.30 494.06,837.44 494.56,838.30 495.06,836.85 495.56,838.08 496.06,839.16 496.56,839.45 497.06,839.89 497.57,838.25 498.07,842.04 498.57,841.11 499.07,840.55 499.57,841.11 500.07,842.86 500.57,843.74 501.07,841.50 501.57,842.44 502.07,842.40 502.58,844.46 503.08,844.74" fill="none" stroke="#d6284a" stroke-width="1.05" stroke-linejoin="round"/>
<line x1="381.50" y1="754.00" x2="381.50" y2="847.80" stroke="#1a1a1a" stroke-width="1.5"/>
<line x1="381.50" y1="847.80" x2="505.20" y2="847.80" stroke="#1a1a1a" stroke-width="1.5"/>
<line x1="381.50" y1="847.80" x2="381.50" y2="851.80" stroke="#1a1a1a" stroke-width="1.3"/>
<line x1="412.43" y1="847.80" x2="412.43" y2="851.80" stroke="#1a1a1a" stroke-width="1.3"/>
<line x1="443.35" y1="847.80" x2="443.35" y2="851.80" stroke="#1a1a1a" stroke-width="1.3"/>
<line x1="474.27" y1="847.80" x2="474.27" y2="851.80" stroke="#1a1a1a" stroke-width="1.3"/>
<line x1="505.20" y1="847.80" x2="505.20" y2="851.80" stroke="#1a1a1a" stroke-width="1.3"/>
<text x="386.04" y="867.10" font-size="12.4" font-weight="bold" text-anchor="end" fill="#111" textLength="14.10" lengthAdjust="spacingAndGlyphs">10</text>
<text x="386.88" y="859.80" font-size="9.0" font-weight="bold" text-anchor="start" fill="#111" textLength="5.85" lengthAdjust="spacingAndGlyphs">0</text>
<text x="447.29" y="867.10" font-size="12.4" font-weight="bold" text-anchor="end" fill="#111" textLength="14.10" lengthAdjust="spacingAndGlyphs">10</text>
<text x="450.19" y="859.80" font-size="9.0" font-weight="bold" text-anchor="start" fill="#111" textLength="5.79" lengthAdjust="spacingAndGlyphs">2</text>
<text x="507.64" y="867.10" font-size="12.4" font-weight="bold" text-anchor="end" fill="#111" textLength="14.10" lengthAdjust="spacingAndGlyphs">10</text>
<text x="509.86" y="859.80" font-size="9.0" font-weight="bold" text-anchor="start" fill="#111" textLength="5.20" lengthAdjust="spacingAndGlyphs">4</text>
<text x="377.70" y="824.40" font-size="10.8" font-weight="bold" fill="#111" textLength="40.83" lengthAdjust="spacingAndGlyphs" transform="rotate(-90 377.70 824.40)">counts</text>
<text x="461.02" y="757.10" font-size="11.8" font-weight="bold" text-anchor="start" fill="#111" textLength="33.87" lengthAdjust="spacingAndGlyphs">CD 71</text>
</svg>
</body></html>
